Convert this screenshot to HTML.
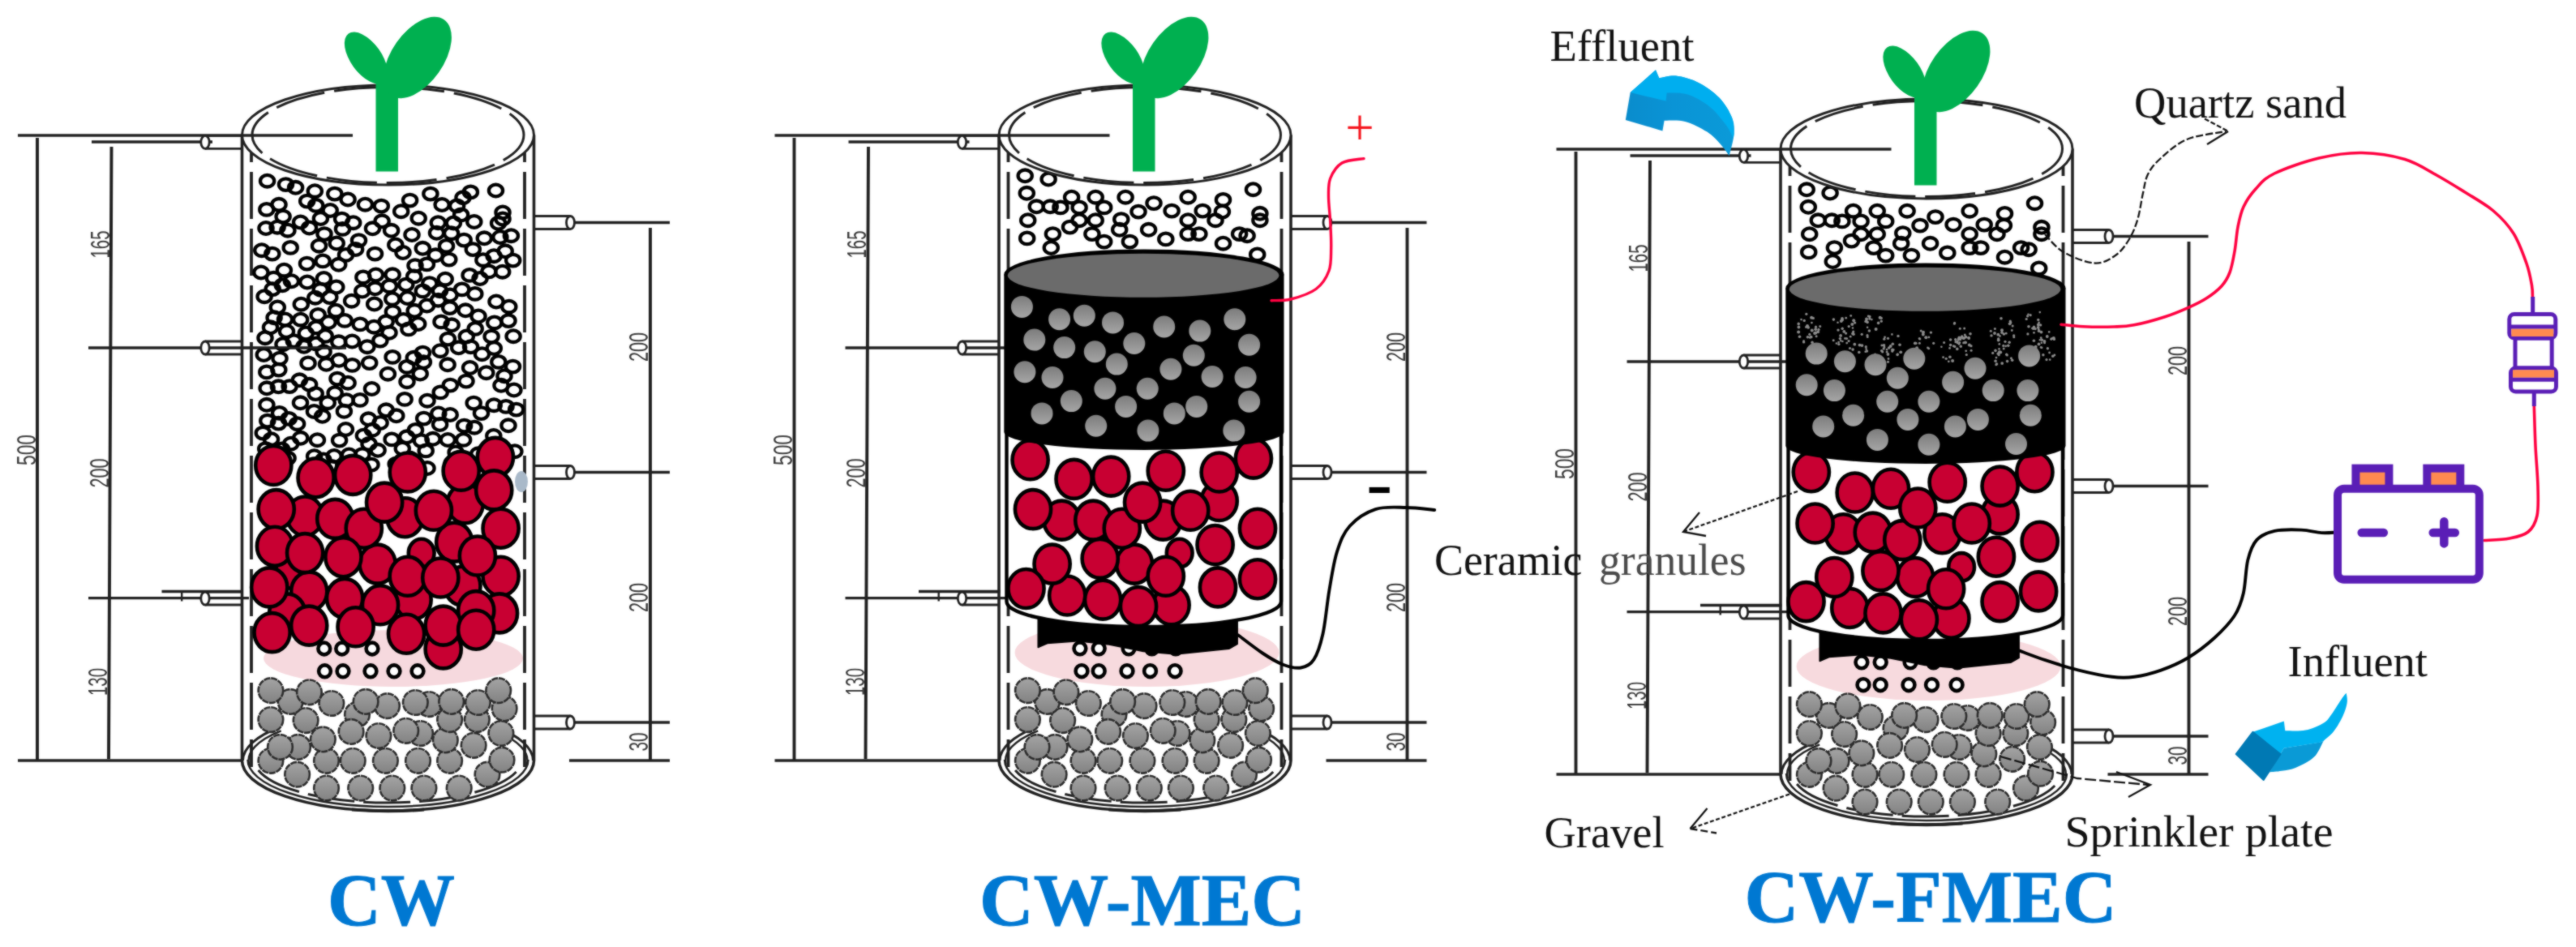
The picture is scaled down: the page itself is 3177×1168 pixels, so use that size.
<!DOCTYPE html>
<html lang="en"><head><meta charset="utf-8"><title>CW, CW-MEC and CW-FMEC reactors</title>
<style>html,body{margin:0;padding:0;background:#fff}svg{display:block}.lab{font-family:"Liberation Serif","Times New Roman",serif;font-size:54px;fill:#111}.ttl{font-family:"Liberation Serif","Times New Roman",serif;font-weight:bold;font-size:91px;fill:#0078d2;stroke:#0078d2;stroke-width:1px}</style></head><body>
<svg width="3177" height="1168" viewBox="0 0 3177 1168">
<defs><linearGradient id="gg" x1="0" y1="0" x2="0" y2="1"><stop offset="0" stop-color="#a4a4a4"/><stop offset="1" stop-color="#828282"/></linearGradient><linearGradient id="gb" x1="0" y1="0" x2="0" y2="1"><stop offset="0" stop-color="#7c7c7c"/><stop offset="1" stop-color="#a6a6a6"/></linearGradient><linearGradient id="efg" x1="0" y1="0" x2="1" y2="0"><stop offset="0" stop-color="#0a8ccc"/><stop offset="0.45" stop-color="#0a94d6"/><stop offset="1" stop-color="#0b9ad8"/></linearGradient><filter id="soft" x="0" y="0" width="100%" height="100%" filterUnits="userSpaceOnUse" color-interpolation-filters="sRGB"><feGaussianBlur in="SourceGraphic" stdDeviation="0.9" result="b"/><feComposite in="SourceGraphic" in2="b" operator="arithmetic" k1="0" k2="0.5" k3="0.5" k4="0"/></filter></defs>
<g filter="url(#soft)">
<rect width="3177" height="1168" fill="#fff"/>
<g id="col1"><g stroke="#202020" stroke-width="3.3" fill="none" stroke-linecap="butt"><path d="M22 167H435 M113 175H262 M109 429H427 M109 737.7H307 M199.5 729.5H300 M22 938H298"/><path d="M709 274.5H826 M709 582.5H826 M709 891H826 M702 938H826"/></g><g stroke="#202020" stroke-width="3.9" fill="none"><path d="M46 170V938 M137.5 181L134 936 M802 281V938"/></g><path d="M224.2 731V741.5" stroke="#202020" stroke-width="2.4" fill="none"/><text transform="translate(134.8 301.5) rotate(-90)" text-anchor="middle" font-family="'Liberation Sans', Arial, sans-serif" font-size="33" fill="#3c3c3c" textLength="34" lengthAdjust="spacingAndGlyphs">165</text><text transform="translate(133.6 583.5) rotate(-90)" text-anchor="middle" font-family="'Liberation Sans', Arial, sans-serif" font-size="33" fill="#3c3c3c" textLength="36" lengthAdjust="spacingAndGlyphs">200</text><text transform="translate(132.4 841) rotate(-90)" text-anchor="middle" font-family="'Liberation Sans', Arial, sans-serif" font-size="33" fill="#3c3c3c" textLength="34" lengthAdjust="spacingAndGlyphs">130</text><text transform="translate(43.5 555) rotate(-90)" text-anchor="middle" font-family="'Liberation Sans', Arial, sans-serif" font-size="33" fill="#3c3c3c" textLength="38" lengthAdjust="spacingAndGlyphs">500</text><text transform="translate(799 428) rotate(-90)" text-anchor="middle" font-family="'Liberation Sans', Arial, sans-serif" font-size="33" fill="#3c3c3c" textLength="36" lengthAdjust="spacingAndGlyphs">200</text><text transform="translate(799 737) rotate(-90)" text-anchor="middle" font-family="'Liberation Sans', Arial, sans-serif" font-size="33" fill="#3c3c3c" textLength="36" lengthAdjust="spacingAndGlyphs">200</text><text transform="translate(799 915) rotate(-90)" text-anchor="middle" font-family="'Liberation Sans', Arial, sans-serif" font-size="33" fill="#3c3c3c" textLength="23" lengthAdjust="spacingAndGlyphs">30</text><g fill="none" stroke="#202020"><path d="M299.5 938A179 62 0 0 1 345.5 896.5 M657.5 938A179 62 0 0 0 611.5 896.5" stroke-width="3"/><path d="M307.2 943A172 57 0 0 1 346.7 901.4 M649.8 943A172 57 0 0 0 610.3 901.4" stroke-width="2.5"/><path d="M305.5 937A173 58 0 0 0 651.5 937" stroke-width="2.5"/><path d="M318.6 950A165.5 54 0 0 0 638.4 950" stroke-width="3" stroke-dasharray="58 11"/><path d="M310 150V946 M647 150V946" stroke-width="3.8" stroke-dasharray="58 12" stroke-dashoffset="8"/></g><ellipse cx="485" cy="812" rx="160" ry="35" fill="#f6d9de"/><g fill="url(#gg)" stroke="#2c2c2c" stroke-width="2.6" stroke-dasharray="8 1"><circle cx="440.5" cy="881.2" r="15.3"/><circle cx="402.5" cy="972.1" r="15.3"/><circle cx="444.7" cy="972.1" r="15.3"/><circle cx="483.8" cy="972.1" r="15.3"/><circle cx="522.9" cy="972.1" r="15.3"/><circle cx="566.2" cy="972.1" r="15.3"/><circle cx="366.6" cy="955.2" r="15.3"/><circle cx="601" cy="955.2" r="15.3"/><circle cx="333.9" cy="938.3" r="15.3"/><circle cx="402.5" cy="938.3" r="15.3"/><circle cx="435.2" cy="938.3" r="15.3"/><circle cx="475.4" cy="938.3" r="15.3"/><circle cx="515.5" cy="938.3" r="15.3"/><circle cx="554.6" cy="938.3" r="15.3"/><circle cx="619" cy="937.2" r="15.3"/><circle cx="367.6" cy="921.4" r="15.3"/><circle cx="345.5" cy="921.4" r="15.3"/><circle cx="584.1" cy="919.3" r="15.3"/><circle cx="549.3" cy="912.9" r="15.3"/><circle cx="398.3" cy="911.9" r="15.3"/><circle cx="466.9" cy="907.6" r="15.3"/><circle cx="518.6" cy="904.5" r="15.3"/><circle cx="617.9" cy="904.5" r="15.3"/><circle cx="433.1" cy="902.4" r="15.3"/><circle cx="500.7" cy="901.3" r="15.3"/><circle cx="377.1" cy="888.6" r="15.3"/><circle cx="333.9" cy="887.6" r="15.3"/><circle cx="554.6" cy="887.6" r="15.3"/><circle cx="588.3" cy="887.6" r="15.3"/><circle cx="622.1" cy="873.9" r="15.3"/><circle cx="477.5" cy="870.7" r="15.3"/><circle cx="529.2" cy="868.6" r="15.3"/><circle cx="408.8" cy="867.5" r="15.3"/><circle cx="512.3" cy="866.5" r="15.3"/><circle cx="589.4" cy="866.5" r="15.3"/><circle cx="358.1" cy="865.4" r="15.3"/><circle cx="451.1" cy="865.4" r="15.3"/><circle cx="556.7" cy="865.4" r="15.3"/><circle cx="381.4" cy="853.8" r="15.3"/><circle cx="333.9" cy="851.7" r="15.3"/><circle cx="614.7" cy="851.7" r="15.3"/></g><g fill="none" stroke="#000" stroke-width="4.3"><ellipse cx="421.6" cy="270.1" rx="8.6" ry="7.3"/><ellipse cx="454.4" cy="516.8" rx="8.6" ry="7.3"/><ellipse cx="595.9" cy="320.7" rx="8.6" ry="7.3"/><ellipse cx="374.9" cy="427.3" rx="8.6" ry="7.3"/><ellipse cx="575" cy="470.1" rx="8.6" ry="7.3"/><ellipse cx="553.8" cy="320.1" rx="8.6" ry="7.3"/><ellipse cx="328.8" cy="458.9" rx="8.6" ry="7.3"/><ellipse cx="589.8" cy="559.8" rx="8.6" ry="7.3"/><ellipse cx="527" cy="577.5" rx="8.6" ry="7.3"/><ellipse cx="358.2" cy="305.4" rx="8.6" ry="7.3"/><ellipse cx="342.3" cy="379" rx="8.6" ry="7.3"/><ellipse cx="406.8" cy="366.6" rx="8.6" ry="7.3"/><ellipse cx="484.1" cy="440.4" rx="8.6" ry="7.3"/><ellipse cx="609.2" cy="499.7" rx="8.6" ry="7.3"/><ellipse cx="324.3" cy="534.1" rx="8.6" ry="7.3"/><ellipse cx="516.2" cy="269.2" rx="8.6" ry="7.3"/><ellipse cx="344" cy="252.3" rx="8.6" ry="7.3"/><ellipse cx="488.2" cy="572.2" rx="8.6" ry="7.3"/><ellipse cx="370.5" cy="496.8" rx="8.6" ry="7.3"/><ellipse cx="389.9" cy="403.9" rx="8.6" ry="7.3"/><ellipse cx="627.8" cy="378.2" rx="8.6" ry="7.3"/><ellipse cx="519.4" cy="543.6" rx="8.6" ry="7.3"/><ellipse cx="590" cy="390" rx="8.6" ry="7.3"/><ellipse cx="424.4" cy="507.3" rx="8.6" ry="7.3"/><ellipse cx="446.9" cy="560.6" rx="8.6" ry="7.3"/><ellipse cx="632.5" cy="452.1" rx="8.6" ry="7.3"/><ellipse cx="398.1" cy="321.9" rx="8.6" ry="7.3"/><ellipse cx="358.7" cy="547.2" rx="8.6" ry="7.3"/><ellipse cx="459.5" cy="281.8" rx="8.6" ry="7.3"/><ellipse cx="552.4" cy="418.1" rx="8.6" ry="7.3"/><ellipse cx="499.1" cy="492.4" rx="8.6" ry="7.3"/><ellipse cx="515.7" cy="399.5" rx="8.6" ry="7.3"/><ellipse cx="623.2" cy="309.8" rx="8.6" ry="7.3"/><ellipse cx="571.6" cy="542.4" rx="8.6" ry="7.3"/><ellipse cx="387.6" cy="562.7" rx="8.6" ry="7.3"/><ellipse cx="484.1" cy="338.8" rx="8.6" ry="7.3"/><ellipse cx="321.9" cy="336" rx="8.6" ry="7.3"/><ellipse cx="328.9" cy="499.3" rx="8.6" ry="7.3"/><ellipse cx="502" cy="470.7" rx="8.6" ry="7.3"/><ellipse cx="540.4" cy="370.2" rx="8.6" ry="7.3"/><ellipse cx="496.3" cy="553.2" rx="8.6" ry="7.3"/><ellipse cx="487.8" cy="302" rx="8.6" ry="7.3"/><ellipse cx="417.7" cy="326.3" rx="8.6" ry="7.3"/><ellipse cx="444.1" cy="399.9" rx="8.6" ry="7.3"/><ellipse cx="447.9" cy="341.9" rx="8.6" ry="7.3"/><ellipse cx="343.5" cy="522.1" rx="8.6" ry="7.3"/><ellipse cx="599.8" cy="459.7" rx="8.6" ry="7.3"/><ellipse cx="633.1" cy="414.7" rx="8.6" ry="7.3"/><ellipse cx="329.6" cy="223.2" rx="8.6" ry="7.3"/><ellipse cx="415.2" cy="300" rx="8.6" ry="7.3"/><ellipse cx="552.1" cy="449.8" rx="8.6" ry="7.3"/><ellipse cx="555.2" cy="511.5" rx="8.6" ry="7.3"/><ellipse cx="359.4" cy="346.7" rx="8.6" ry="7.3"/><ellipse cx="480" cy="410.3" rx="8.6" ry="7.3"/><ellipse cx="530.9" cy="239.1" rx="8.6" ry="7.3"/><ellipse cx="557.2" cy="571.1" rx="8.6" ry="7.3"/><ellipse cx="335.8" cy="313.1" rx="8.6" ry="7.3"/><ellipse cx="484.4" cy="384.6" rx="8.6" ry="7.3"/><ellipse cx="634.9" cy="556.7" rx="8.6" ry="7.3"/><ellipse cx="462.5" cy="313.1" rx="8.6" ry="7.3"/><ellipse cx="391.4" cy="542.7" rx="8.6" ry="7.3"/><ellipse cx="618" cy="475.3" rx="8.6" ry="7.3"/><ellipse cx="433.6" cy="371.2" rx="8.6" ry="7.3"/><ellipse cx="482.6" cy="284.3" rx="8.6" ry="7.3"/><ellipse cx="554.7" cy="379.6" rx="8.6" ry="7.3"/><ellipse cx="413.1" cy="484.7" rx="8.6" ry="7.3"/><ellipse cx="370.6" cy="274" rx="8.6" ry="7.3"/><ellipse cx="378.7" cy="248.1" rx="8.6" ry="7.3"/><ellipse cx="501.7" cy="538.8" rx="8.6" ry="7.3"/><ellipse cx="597.3" cy="293.8" rx="8.6" ry="7.3"/><ellipse cx="627" cy="524.8" rx="8.6" ry="7.3"/><ellipse cx="585.1" cy="527.2" rx="8.6" ry="7.3"/><ellipse cx="527" cy="494.2" rx="8.6" ry="7.3"/><ellipse cx="526.4" cy="325.9" rx="8.6" ry="7.3"/><ellipse cx="442.5" cy="296.6" rx="8.6" ry="7.3"/><ellipse cx="414.3" cy="383.2" rx="8.6" ry="7.3"/><ellipse cx="478.4" cy="461.2" rx="8.6" ry="7.3"/><ellipse cx="538.5" cy="287.3" rx="8.6" ry="7.3"/><ellipse cx="412.1" cy="562.5" rx="8.6" ry="7.3"/><ellipse cx="388.8" cy="367.2" rx="8.6" ry="7.3"/><ellipse cx="608.8" cy="537.5" rx="8.6" ry="7.3"/><ellipse cx="619.7" cy="335.2" rx="8.6" ry="7.3"/><ellipse cx="630.4" cy="290.7" rx="8.6" ry="7.3"/><ellipse cx="378.9" cy="348" rx="8.6" ry="7.3"/><ellipse cx="426.5" cy="314.4" rx="8.6" ry="7.3"/><ellipse cx="614.8" cy="446.4" rx="8.6" ry="7.3"/><ellipse cx="392.2" cy="388.4" rx="8.6" ry="7.3"/><ellipse cx="584.2" cy="497.1" rx="8.6" ry="7.3"/><ellipse cx="571" cy="243.8" rx="8.6" ry="7.3"/><ellipse cx="327" cy="416.7" rx="8.6" ry="7.3"/><ellipse cx="518.2" cy="461" rx="8.6" ry="7.3"/><ellipse cx="500.8" cy="351.1" rx="8.6" ry="7.3"/><ellipse cx="556.6" cy="287.7" rx="8.6" ry="7.3"/><ellipse cx="579.6" cy="453.5" rx="8.6" ry="7.3"/><ellipse cx="354.9" cy="284.2" rx="8.6" ry="7.3"/><ellipse cx="510.3" cy="441.3" rx="8.6" ry="7.3"/><ellipse cx="399.1" cy="433.8" rx="8.6" ry="7.3"/><ellipse cx="575.3" cy="415" rx="8.6" ry="7.3"/><ellipse cx="369.4" cy="468.8" rx="8.6" ry="7.3"/><ellipse cx="417.8" cy="421.8" rx="8.6" ry="7.3"/><ellipse cx="448.4" cy="537.2" rx="8.6" ry="7.3"/><ellipse cx="345" cy="442.1" rx="8.6" ry="7.3"/><ellipse cx="351.5" cy="394" rx="8.6" ry="7.3"/><ellipse cx="584.8" cy="273.5" rx="8.6" ry="7.3"/><ellipse cx="572.2" cy="296.1" rx="8.6" ry="7.3"/><ellipse cx="552.3" cy="542.5" rx="8.6" ry="7.3"/><ellipse cx="452.9" cy="427.7" rx="8.6" ry="7.3"/><ellipse cx="461.7" cy="375" rx="8.6" ry="7.3"/><ellipse cx="470.3" cy="254.1" rx="8.6" ry="7.3"/><ellipse cx="480.3" cy="352.9" rx="8.6" ry="7.3"/><ellipse cx="614.6" cy="275.3" rx="8.6" ry="7.3"/><ellipse cx="337.4" cy="343.1" rx="8.6" ry="7.3"/><ellipse cx="328" cy="281.5" rx="8.6" ry="7.3"/><ellipse cx="353.5" cy="408.7" rx="8.6" ry="7.3"/><ellipse cx="350.1" cy="577.4" rx="8.6" ry="7.3"/><ellipse cx="521.3" cy="358.9" rx="8.6" ry="7.3"/><ellipse cx="583.3" cy="307.6" rx="8.6" ry="7.3"/><ellipse cx="483.1" cy="541.9" rx="8.6" ry="7.3"/><ellipse cx="508" cy="289.5" rx="8.6" ry="7.3"/><ellipse cx="395.4" cy="269.5" rx="8.6" ry="7.3"/><ellipse cx="526.5" cy="377" rx="8.6" ry="7.3"/><ellipse cx="389.7" cy="253.4" rx="8.6" ry="7.3"/><ellipse cx="542.6" cy="523.5" rx="8.6" ry="7.3"/><ellipse cx="402.5" cy="449.3" rx="8.6" ry="7.3"/><ellipse cx="602.9" cy="334.9" rx="8.6" ry="7.3"/><ellipse cx="469.1" cy="521.5" rx="8.6" ry="7.3"/><ellipse cx="458.5" cy="479.5" rx="8.6" ry="7.3"/><ellipse cx="543.2" cy="483.9" rx="8.6" ry="7.3"/><ellipse cx="352.5" cy="227.6" rx="8.6" ry="7.3"/><ellipse cx="522.7" cy="516.1" rx="8.6" ry="7.3"/><ellipse cx="322.8" cy="308.7" rx="8.6" ry="7.3"/><ellipse cx="326.1" cy="365.7" rx="8.6" ry="7.3"/><ellipse cx="429.1" cy="472.2" rx="8.6" ry="7.3"/><ellipse cx="476.2" cy="505.8" rx="8.6" ry="7.3"/><ellipse cx="544" cy="396.9" rx="8.6" ry="7.3"/><ellipse cx="446.8" cy="359" rx="8.6" ry="7.3"/><ellipse cx="609.8" cy="397.9" rx="8.6" ry="7.3"/><ellipse cx="366.6" cy="522.7" rx="8.6" ry="7.3"/><ellipse cx="371.3" cy="375.2" rx="8.6" ry="7.3"/><ellipse cx="378.5" cy="325.1" rx="8.6" ry="7.3"/><ellipse cx="633.9" cy="481" rx="8.6" ry="7.3"/><ellipse cx="636.7" cy="505.1" rx="8.6" ry="7.3"/><ellipse cx="380" cy="447.9" rx="8.6" ry="7.3"/><ellipse cx="612" cy="372" rx="8.6" ry="7.3"/><ellipse cx="418" cy="444.3" rx="8.6" ry="7.3"/><ellipse cx="521.3" cy="306.3" rx="8.6" ry="7.3"/><ellipse cx="569.7" cy="356.9" rx="8.6" ry="7.3"/><ellipse cx="349" cy="424.7" rx="8.6" ry="7.3"/><ellipse cx="586.2" cy="405.4" rx="8.6" ry="7.3"/><ellipse cx="444" cy="493.4" rx="8.6" ry="7.3"/><ellipse cx="389.2" cy="485.6" rx="8.6" ry="7.3"/><ellipse cx="387.4" cy="507.5" rx="8.6" ry="7.3"/><ellipse cx="468.9" cy="420.1" rx="8.6" ry="7.3"/><ellipse cx="494.7" cy="260.7" rx="8.6" ry="7.3"/><ellipse cx="438.6" cy="307.5" rx="8.6" ry="7.3"/><ellipse cx="455.7" cy="447.6" rx="8.6" ry="7.3"/><ellipse cx="349.1" cy="267.1" rx="8.6" ry="7.3"/><ellipse cx="370.7" cy="540.3" rx="8.6" ry="7.3"/><ellipse cx="533.9" cy="541.3" rx="8.6" ry="7.3"/><ellipse cx="497" cy="311.5" rx="8.6" ry="7.3"/><ellipse cx="476.2" cy="396.8" rx="8.6" ry="7.3"/><ellipse cx="325.3" cy="437.5" rx="8.6" ry="7.3"/><ellipse cx="423.7" cy="573.3" rx="8.6" ry="7.3"/><ellipse cx="426.4" cy="529.5" rx="8.6" ry="7.3"/><ellipse cx="585.8" cy="362.4" rx="8.6" ry="7.3"/><ellipse cx="329.1" cy="478.8" rx="8.6" ry="7.3"/><ellipse cx="543" cy="432.7" rx="8.6" ry="7.3"/><ellipse cx="529.8" cy="349.6" rx="8.6" ry="7.3"/><ellipse cx="525.2" cy="555.9" rx="8.6" ry="7.3"/><ellipse cx="328.8" cy="258.4" rx="8.6" ry="7.3"/><ellipse cx="450.4" cy="252.2" rx="8.6" ry="7.3"/><ellipse cx="550.5" cy="303.4" rx="8.6" ry="7.3"/><ellipse cx="466.1" cy="555.3" rx="8.6" ry="7.3"/><ellipse cx="398.8" cy="567" rx="8.6" ry="7.3"/><ellipse cx="434.4" cy="450.4" rx="8.6" ry="7.3"/><ellipse cx="624" cy="501.4" rx="8.6" ry="7.3"/><ellipse cx="335.8" cy="570.5" rx="8.6" ry="7.3"/><ellipse cx="512" cy="327.6" rx="8.6" ry="7.3"/><ellipse cx="329.8" cy="519.1" rx="8.6" ry="7.3"/><ellipse cx="593.5" cy="509.6" rx="8.6" ry="7.3"/><ellipse cx="429.1" cy="246" rx="8.6" ry="7.3"/><ellipse cx="574.1" cy="382.8" rx="8.6" ry="7.3"/><ellipse cx="344.6" cy="509.4" rx="8.6" ry="7.3"/><ellipse cx="434.3" cy="421" rx="8.6" ry="7.3"/><ellipse cx="364.6" cy="231.3" rx="8.6" ry="7.3"/><ellipse cx="510.7" cy="340.9" rx="8.6" ry="7.3"/><ellipse cx="381.5" cy="281" rx="8.6" ry="7.3"/><ellipse cx="355.1" cy="565.1" rx="8.6" ry="7.3"/><ellipse cx="399.4" cy="343.5" rx="8.6" ry="7.3"/><ellipse cx="562.1" cy="557.9" rx="8.6" ry="7.3"/><ellipse cx="350.4" cy="333.2" rx="8.6" ry="7.3"/><ellipse cx="327.7" cy="553.6" rx="8.6" ry="7.3"/><ellipse cx="347.6" cy="554" rx="8.6" ry="7.3"/><ellipse cx="463.5" cy="339" rx="8.6" ry="7.3"/><ellipse cx="388.3" cy="235.7" rx="8.6" ry="7.3"/><ellipse cx="370.7" cy="394.2" rx="8.6" ry="7.3"/><ellipse cx="334.5" cy="541.7" rx="8.6" ry="7.3"/><ellipse cx="400" cy="288.6" rx="8.6" ry="7.3"/><ellipse cx="579.1" cy="339.4" rx="8.6" ry="7.3"/><ellipse cx="580.6" cy="427.8" rx="8.6" ry="7.3"/><ellipse cx="554.9" cy="364" rx="8.6" ry="7.3"/><ellipse cx="435.7" cy="274.7" rx="8.6" ry="7.3"/><ellipse cx="461.3" cy="403.2" rx="8.6" ry="7.3"/><ellipse cx="627" cy="395.6" rx="8.6" ry="7.3"/><ellipse cx="397.6" cy="513.3" rx="8.6" ry="7.3"/><ellipse cx="503.9" cy="405.9" rx="8.6" ry="7.3"/><ellipse cx="545.1" cy="252.5" rx="8.6" ry="7.3"/><ellipse cx="407.2" cy="259.5" rx="8.6" ry="7.3"/><ellipse cx="559.4" cy="275" rx="8.6" ry="7.3"/><ellipse cx="458" cy="573.1" rx="8.6" ry="7.3"/><ellipse cx="333.5" cy="403.8" rx="8.6" ry="7.3"/><ellipse cx="537.2" cy="314.8" rx="8.6" ry="7.3"/><ellipse cx="501.9" cy="452.4" rx="8.6" ry="7.3"/><ellipse cx="381.6" cy="474.3" rx="8.6" ry="7.3"/><ellipse cx="497.5" cy="394.4" rx="8.6" ry="7.3"/><ellipse cx="408.9" cy="575.4" rx="8.6" ry="7.3"/><ellipse cx="336.2" cy="356.6" rx="8.6" ry="7.3"/><ellipse cx="565.6" cy="428.8" rx="8.6" ry="7.3"/><ellipse cx="502.5" cy="367.5" rx="8.6" ry="7.3"/><ellipse cx="572.6" cy="525.1" rx="8.6" ry="7.3"/><ellipse cx="505.6" cy="247.1" rx="8.6" ry="7.3"/><ellipse cx="455" cy="547.4" rx="8.6" ry="7.3"/><ellipse cx="430.5" cy="561" rx="8.6" ry="7.3"/><ellipse cx="348.3" cy="351.7" rx="8.6" ry="7.3"/><ellipse cx="488.8" cy="512.8" rx="8.6" ry="7.3"/><ellipse cx="583.5" cy="576.4" rx="8.6" ry="7.3"/><ellipse cx="521.4" cy="435.1" rx="8.6" ry="7.3"/><ellipse cx="416" cy="467.1" rx="8.6" ry="7.3"/><ellipse cx="563.6" cy="253.9" rx="8.6" ry="7.3"/><ellipse cx="549.2" cy="344.2" rx="8.6" ry="7.3"/><ellipse cx="462.6" cy="355.8" rx="8.6" ry="7.3"/><ellipse cx="505.9" cy="565.3" rx="8.6" ry="7.3"/><ellipse cx="418.6" cy="543.1" rx="8.6" ry="7.3"/><ellipse cx="395.2" cy="357.3" rx="8.6" ry="7.3"/><ellipse cx="632.7" cy="321.1" rx="8.6" ry="7.3"/><ellipse cx="356.2" cy="516.4" rx="8.6" ry="7.3"/><ellipse cx="609.3" cy="429.5" rx="8.6" ry="7.3"/><ellipse cx="404.2" cy="496.7" rx="8.6" ry="7.3"/><ellipse cx="412.8" cy="239.1" rx="8.6" ry="7.3"/><ellipse cx="357.1" cy="476.6" rx="8.6" ry="7.3"/><ellipse cx="592" cy="343.5" rx="8.6" ry="7.3"/><ellipse cx="555.3" cy="475.1" rx="8.6" ry="7.3"/><ellipse cx="414.8" cy="354" rx="8.6" ry="7.3"/><ellipse cx="594.5" cy="436.7" rx="8.6" ry="7.3"/><ellipse cx="542.5" cy="358.7" rx="8.6" ry="7.3"/><ellipse cx="401.2" cy="414.4" rx="8.6" ry="7.3"/><ellipse cx="393.5" cy="303.2" rx="8.6" ry="7.3"/><ellipse cx="362.3" cy="420.6" rx="8.6" ry="7.3"/><ellipse cx="511.2" cy="383.3" rx="8.6" ry="7.3"/><ellipse cx="343.4" cy="476.8" rx="8.6" ry="7.3"/><ellipse cx="422.5" cy="282.4" rx="8.6" ry="7.3"/><ellipse cx="611.1" cy="559.9" rx="8.6" ry="7.3"/><ellipse cx="540.3" cy="274.7" rx="8.6" ry="7.3"/><ellipse cx="483.8" cy="368.7" rx="8.6" ry="7.3"/><ellipse cx="598.1" cy="570.6" rx="8.6" ry="7.3"/><ellipse cx="580.4" cy="236.9" rx="8.6" ry="7.3"/><ellipse cx="343.8" cy="456.1" rx="8.6" ry="7.3"/><ellipse cx="606.1" cy="415.1" rx="8.6" ry="7.3"/><ellipse cx="389.9" cy="424" rx="8.6" ry="7.3"/><ellipse cx="459.3" cy="530.2" rx="8.6" ry="7.3"/><ellipse cx="568.6" cy="264.9" rx="8.6" ry="7.3"/><ellipse cx="427.3" cy="493.7" rx="8.6" ry="7.3"/><ellipse cx="540.8" cy="510" rx="8.6" ry="7.3"/><ellipse cx="471.1" cy="272.8" rx="8.6" ry="7.3"/><ellipse cx="405.1" cy="397.5" rx="8.6" ry="7.3"/><ellipse cx="522.4" cy="446.6" rx="8.6" ry="7.3"/><ellipse cx="622" cy="463.7" rx="8.6" ry="7.3"/><ellipse cx="557.1" cy="400.8" rx="8.6" ry="7.3"/><ellipse cx="342.1" cy="280.2" rx="8.6" ry="7.3"/><ellipse cx="338.1" cy="391.8" rx="8.6" ry="7.3"/><ellipse cx="609.1" cy="315.7" rx="8.6" ry="7.3"/><ellipse cx="512.5" cy="530.4" rx="8.6" ry="7.3"/><ellipse cx="377.3" cy="411" rx="8.6" ry="7.3"/><ellipse cx="616.9" cy="292.5" rx="8.6" ry="7.3"/><ellipse cx="425.1" cy="395.4" rx="8.6" ry="7.3"/><ellipse cx="611.5" cy="235" rx="8.6" ry="7.3"/><ellipse cx="620" cy="262" rx="8.6" ry="7.3"/><ellipse cx="620" cy="270" rx="8.6" ry="7.3"/></g><g fill="#fff" stroke="#000" stroke-width="4.6"><circle cx="399.8" cy="800" r="7.4"/><circle cx="421.7" cy="800" r="7.4"/><circle cx="459" cy="800" r="7.4"/><circle cx="400.5" cy="827.8" r="7.4"/><circle cx="423" cy="827.8" r="7.4"/><circle cx="457" cy="827.8" r="7.4"/><circle cx="486" cy="827.8" r="7.4"/><circle cx="515" cy="827.8" r="7.4"/></g><g fill="#c80032" stroke="#000" stroke-width="4.6"><ellipse cx="376.1" cy="636.5" rx="22.1" ry="24"/><ellipse cx="573.7" cy="621.3" rx="22.1" ry="24"/><ellipse cx="499.4" cy="638.2" rx="22.1" ry="24"/><ellipse cx="560.2" cy="668.6" rx="22.1" ry="24"/><ellipse cx="519.7" cy="682.1" rx="15.9" ry="17.3"/><ellipse cx="465.6" cy="695.6" rx="22.1" ry="24"/><ellipse cx="617.6" cy="710.8" rx="22.1" ry="24"/><ellipse cx="362.6" cy="702.4" rx="22.1" ry="24"/><ellipse cx="381.2" cy="729.4" rx="22.1" ry="24"/><ellipse cx="509.6" cy="739.6" rx="22.1" ry="24"/><ellipse cx="570.4" cy="722.7" rx="22.1" ry="24"/><ellipse cx="616" cy="756.4" rx="22.1" ry="24"/><ellipse cx="354.2" cy="756.4" rx="22.1" ry="24"/><ellipse cx="587.2" cy="753.1" rx="22.1" ry="24"/><ellipse cx="546.7" cy="800.4" rx="22.1" ry="24"/><ellipse cx="337.3" cy="574" rx="22.1" ry="24"/><ellipse cx="389.6" cy="589.2" rx="22.1" ry="24"/><ellipse cx="435.2" cy="585.9" rx="22.1" ry="24"/><ellipse cx="502.8" cy="582.5" rx="22.1" ry="24"/><ellipse cx="568.7" cy="580.8" rx="22.1" ry="24"/><ellipse cx="610.9" cy="563.9" rx="22.1" ry="24"/><ellipse cx="609.2" cy="604.4" rx="22.1" ry="24"/><ellipse cx="340.7" cy="628.1" rx="22.1" ry="24"/><ellipse cx="413.3" cy="639.9" rx="22.1" ry="24"/><ellipse cx="448.8" cy="651.7" rx="22.1" ry="24"/><ellipse cx="474.1" cy="619.6" rx="22.1" ry="24"/><ellipse cx="534.9" cy="629.8" rx="22.1" ry="24"/><ellipse cx="617.6" cy="651.7" rx="22.1" ry="24"/><ellipse cx="339" cy="673.7" rx="22.1" ry="24"/><ellipse cx="376.1" cy="682.1" rx="22.1" ry="24"/><ellipse cx="423.4" cy="687.2" rx="22.1" ry="24"/><ellipse cx="502.8" cy="710.8" rx="22.1" ry="24"/><ellipse cx="543.3" cy="712.5" rx="22.1" ry="24"/><ellipse cx="588.9" cy="685.5" rx="22.1" ry="24"/><ellipse cx="332.2" cy="724.4" rx="22.1" ry="24"/><ellipse cx="425.1" cy="737.9" rx="22.1" ry="24"/><ellipse cx="469" cy="746.3" rx="22.1" ry="24"/><ellipse cx="335.6" cy="780.1" rx="22.1" ry="24"/><ellipse cx="381.2" cy="771.6" rx="22.1" ry="24"/><ellipse cx="438.6" cy="773.3" rx="22.1" ry="24"/><ellipse cx="501.1" cy="781.8" rx="22.1" ry="24"/><ellipse cx="546.7" cy="771.6" rx="22.1" ry="24"/><ellipse cx="587.2" cy="776.7" rx="22.1" ry="24"/></g><ellipse cx="643" cy="594" rx="8" ry="13" fill="#a9b9c9"/><path d="M253 167.3H298 M253 183.3H298" stroke="#202020" stroke-width="2.8" fill="none"/><ellipse cx="253" cy="175.3" rx="5.2" ry="8" fill="#fff" stroke="#202020" stroke-width="2.8"/><path d="M253 421H298 M253 437H298" stroke="#202020" stroke-width="2.8" fill="none"/><ellipse cx="253" cy="429" rx="5.2" ry="8" fill="#fff" stroke="#202020" stroke-width="2.8"/><path d="M253 730H298 M253 746H298" stroke="#202020" stroke-width="2.8" fill="none"/><ellipse cx="253" cy="738" rx="5.2" ry="8" fill="#fff" stroke="#202020" stroke-width="2.8"/><path d="M659 266.5H703.5 M659 282.5H703.5" stroke="#202020" stroke-width="2.8" fill="none"/><ellipse cx="703.5" cy="274.5" rx="5" ry="8" fill="#fff" stroke="#202020" stroke-width="2.8"/><path d="M659 574.5H703.5 M659 590.5H703.5" stroke="#202020" stroke-width="2.8" fill="none"/><ellipse cx="703.5" cy="582.5" rx="5" ry="8" fill="#fff" stroke="#202020" stroke-width="2.8"/><path d="M659 883H703.5 M659 899H703.5" stroke="#202020" stroke-width="2.8" fill="none"/><ellipse cx="703.5" cy="891" rx="5" ry="8" fill="#fff" stroke="#202020" stroke-width="2.8"/><g fill="none" stroke="#202020"><path d="M298.5 166.5V938 M658.5 166.5V938" stroke-width="3.6"/><ellipse cx="478.5" cy="166.5" rx="180" ry="61.5" stroke-width="3" fill="#fff"/><ellipse cx="478.5" cy="166.5" rx="167.5" ry="59" stroke-width="3" stroke-dasharray="62 12" stroke-dashoffset="20"/><path d="M298.5 938A180 62 0 0 0 658.5 938" stroke-width="3.6"/><path d="M434 998.5Q478.5 1002 523 998.5" stroke-width="4"/></g><path d="M298 167H435" stroke="#202020" stroke-width="3.3" fill="none"/><path d="M298 429H427" stroke="#202020" stroke-width="2.6" fill="none"/><g fill="#00b050"><rect x="463.5" y="95" width="27.5" height="116.5"/><ellipse cx="451.5" cy="71.5" rx="37" ry="19" transform="rotate(54 451.5 71.5)"/><ellipse cx="515" cy="71" rx="57" ry="32" transform="rotate(-55 515 71)"/></g></g>
<g id="col2" transform="translate(933.5 0)"><g stroke="#202020" stroke-width="3.3" fill="none" stroke-linecap="butt"><path d="M22 167H435 M113 175H262 M109 429H427 M109 737.7H307 M199.5 729.5H300 M22 938H298"/><path d="M709 274.5H826 M709 582.5H826 M709 891H826 M702 938H826"/></g><g stroke="#202020" stroke-width="3.9" fill="none"><path d="M46 170V938 M137.5 181L134 936 M802 281V938"/></g><path d="M224.2 731V741.5" stroke="#202020" stroke-width="2.4" fill="none"/><text transform="translate(134.8 301.5) rotate(-90)" text-anchor="middle" font-family="'Liberation Sans', Arial, sans-serif" font-size="33" fill="#3c3c3c" textLength="34" lengthAdjust="spacingAndGlyphs">165</text><text transform="translate(133.6 583.5) rotate(-90)" text-anchor="middle" font-family="'Liberation Sans', Arial, sans-serif" font-size="33" fill="#3c3c3c" textLength="36" lengthAdjust="spacingAndGlyphs">200</text><text transform="translate(132.4 841) rotate(-90)" text-anchor="middle" font-family="'Liberation Sans', Arial, sans-serif" font-size="33" fill="#3c3c3c" textLength="34" lengthAdjust="spacingAndGlyphs">130</text><text transform="translate(43.5 555) rotate(-90)" text-anchor="middle" font-family="'Liberation Sans', Arial, sans-serif" font-size="33" fill="#3c3c3c" textLength="38" lengthAdjust="spacingAndGlyphs">500</text><text transform="translate(799 428) rotate(-90)" text-anchor="middle" font-family="'Liberation Sans', Arial, sans-serif" font-size="33" fill="#3c3c3c" textLength="36" lengthAdjust="spacingAndGlyphs">200</text><text transform="translate(799 737) rotate(-90)" text-anchor="middle" font-family="'Liberation Sans', Arial, sans-serif" font-size="33" fill="#3c3c3c" textLength="36" lengthAdjust="spacingAndGlyphs">200</text><text transform="translate(799 915) rotate(-90)" text-anchor="middle" font-family="'Liberation Sans', Arial, sans-serif" font-size="33" fill="#3c3c3c" textLength="23" lengthAdjust="spacingAndGlyphs">30</text><g fill="none" stroke="#202020"><path d="M299.5 938A179 62 0 0 1 345.5 896.5 M657.5 938A179 62 0 0 0 611.5 896.5" stroke-width="3"/><path d="M307.2 943A172 57 0 0 1 346.7 901.4 M649.8 943A172 57 0 0 0 610.3 901.4" stroke-width="2.5"/><path d="M305.5 937A173 58 0 0 0 651.5 937" stroke-width="2.5"/><path d="M318.6 950A165.5 54 0 0 0 638.4 950" stroke-width="3" stroke-dasharray="58 11"/><path d="M310 150V946 M647 150V946" stroke-width="3.8" stroke-dasharray="58 12" stroke-dashoffset="8"/></g><ellipse cx="481" cy="805" rx="163" ry="42" fill="#f7dade"/><g fill="url(#gg)" stroke="#2c2c2c" stroke-width="2.6" stroke-dasharray="8 1"><circle cx="440.5" cy="881.2" r="15.3"/><circle cx="402.5" cy="972.1" r="15.3"/><circle cx="444.7" cy="972.1" r="15.3"/><circle cx="483.8" cy="972.1" r="15.3"/><circle cx="522.9" cy="972.1" r="15.3"/><circle cx="566.2" cy="972.1" r="15.3"/><circle cx="366.6" cy="955.2" r="15.3"/><circle cx="601" cy="955.2" r="15.3"/><circle cx="333.9" cy="938.3" r="15.3"/><circle cx="402.5" cy="938.3" r="15.3"/><circle cx="435.2" cy="938.3" r="15.3"/><circle cx="475.4" cy="938.3" r="15.3"/><circle cx="515.5" cy="938.3" r="15.3"/><circle cx="554.6" cy="938.3" r="15.3"/><circle cx="619" cy="937.2" r="15.3"/><circle cx="367.6" cy="921.4" r="15.3"/><circle cx="345.5" cy="921.4" r="15.3"/><circle cx="584.1" cy="919.3" r="15.3"/><circle cx="549.3" cy="912.9" r="15.3"/><circle cx="398.3" cy="911.9" r="15.3"/><circle cx="466.9" cy="907.6" r="15.3"/><circle cx="518.6" cy="904.5" r="15.3"/><circle cx="617.9" cy="904.5" r="15.3"/><circle cx="433.1" cy="902.4" r="15.3"/><circle cx="500.7" cy="901.3" r="15.3"/><circle cx="377.1" cy="888.6" r="15.3"/><circle cx="333.9" cy="887.6" r="15.3"/><circle cx="554.6" cy="887.6" r="15.3"/><circle cx="588.3" cy="887.6" r="15.3"/><circle cx="622.1" cy="873.9" r="15.3"/><circle cx="477.5" cy="870.7" r="15.3"/><circle cx="529.2" cy="868.6" r="15.3"/><circle cx="408.8" cy="867.5" r="15.3"/><circle cx="512.3" cy="866.5" r="15.3"/><circle cx="589.4" cy="866.5" r="15.3"/><circle cx="358.1" cy="865.4" r="15.3"/><circle cx="451.1" cy="865.4" r="15.3"/><circle cx="556.7" cy="865.4" r="15.3"/><circle cx="381.4" cy="853.8" r="15.3"/><circle cx="333.9" cy="851.7" r="15.3"/><circle cx="614.7" cy="851.7" r="15.3"/></g><g fill="none" stroke="#000" stroke-width="4.3"><ellipse cx="330.7" cy="216.8" rx="8.6" ry="7.3"/><ellipse cx="359.6" cy="221" rx="8.6" ry="7.3"/><ellipse cx="332.8" cy="238.3" rx="8.6" ry="7.3"/><ellipse cx="388.1" cy="243.2" rx="8.6" ry="7.3"/><ellipse cx="417.7" cy="243.2" rx="8.6" ry="7.3"/><ellipse cx="454.6" cy="243.2" rx="8.6" ry="7.3"/><ellipse cx="531.7" cy="243.2" rx="8.6" ry="7.3"/><ellipse cx="575" cy="246.4" rx="8.6" ry="7.3"/><ellipse cx="612" cy="233.7" rx="8.6" ry="7.3"/><ellipse cx="344.8" cy="254.8" rx="8.6" ry="7.3"/><ellipse cx="361.7" cy="254.8" rx="8.6" ry="7.3"/><ellipse cx="374.4" cy="255.9" rx="8.6" ry="7.3"/><ellipse cx="397.6" cy="255.9" rx="8.6" ry="7.3"/><ellipse cx="428.2" cy="255.9" rx="8.6" ry="7.3"/><ellipse cx="489.5" cy="250.6" rx="8.6" ry="7.3"/><ellipse cx="470.5" cy="261.1" rx="8.6" ry="7.3"/><ellipse cx="511.6" cy="260.1" rx="8.6" ry="7.3"/><ellipse cx="549.7" cy="260.1" rx="8.6" ry="7.3"/><ellipse cx="573.9" cy="261.1" rx="8.6" ry="7.3"/><ellipse cx="620.4" cy="271.7" rx="8.6" ry="7.3"/><ellipse cx="620.4" cy="263.3" rx="8.6" ry="7.3"/><ellipse cx="334.2" cy="271.7" rx="8.6" ry="7.3"/><ellipse cx="397.6" cy="271.7" rx="8.6" ry="7.3"/><ellipse cx="417.7" cy="271.7" rx="8.6" ry="7.3"/><ellipse cx="449.3" cy="270.6" rx="8.6" ry="7.3"/><ellipse cx="531.7" cy="271.7" rx="8.6" ry="7.3"/><ellipse cx="565.5" cy="271.7" rx="8.6" ry="7.3"/><ellipse cx="386" cy="280.1" rx="8.6" ry="7.3"/><ellipse cx="447.2" cy="283.3" rx="8.6" ry="7.3"/><ellipse cx="483.1" cy="283.3" rx="8.6" ry="7.3"/><ellipse cx="545.4" cy="288.6" rx="8.6" ry="7.3"/><ellipse cx="531.7" cy="288.6" rx="8.6" ry="7.3"/><ellipse cx="595.1" cy="288.6" rx="8.6" ry="7.3"/><ellipse cx="604.6" cy="290.7" rx="8.6" ry="7.3"/><ellipse cx="333.2" cy="293.9" rx="8.6" ry="7.3"/><ellipse cx="364.9" cy="288.6" rx="8.6" ry="7.3"/><ellipse cx="413.4" cy="288.6" rx="8.6" ry="7.3"/><ellipse cx="428.2" cy="298.1" rx="8.6" ry="7.3"/><ellipse cx="459.9" cy="298.1" rx="8.6" ry="7.3"/><ellipse cx="504.3" cy="294.9" rx="8.6" ry="7.3"/><ellipse cx="575" cy="300.2" rx="8.6" ry="7.3"/><ellipse cx="362.8" cy="305.5" rx="8.6" ry="7.3"/><ellipse cx="617.2" cy="313.9" rx="8.6" ry="7.3"/></g><g fill="#fff" stroke="#000" stroke-width="4.6"><circle cx="398.4" cy="799.8" r="7.4"/><circle cx="421.7" cy="799.8" r="7.4"/><circle cx="458.6" cy="799.8" r="7.4"/><circle cx="487.1" cy="799.8" r="7.4"/><circle cx="516.5" cy="799.8" r="7.4"/><circle cx="400.5" cy="827.7" r="7.4"/><circle cx="421.7" cy="827.7" r="7.4"/><circle cx="456.5" cy="827.7" r="7.4"/><circle cx="485" cy="827.7" r="7.4"/><circle cx="515.6" cy="827.7" r="7.4"/></g><path d="M346.7 798.6L358.3 793.5L396.3 790.7L434.3 795L476.6 803.4L516.7 807L550.5 803.4L582.2 800.3L592.7 794.3L592.7 761.7L560 766L520 769L477 770L430 768.8L390 765.6L346.7 758.7Z" fill="#000" stroke="#000" stroke-width="1.5" stroke-linejoin="round"/><path d="M308 520V742A169.2 31 0 0 0 646.5 742V520Z" fill="#fff" stroke="#000" stroke-width="4.4"/><g fill="#c80032" stroke="#000" stroke-width="4.6"><ellipse cx="375.9" cy="641.6" rx="22.1" ry="24"/><ellipse cx="570.2" cy="618" rx="22.1" ry="24"/><ellipse cx="500.9" cy="641.6" rx="22.1" ry="24"/><ellipse cx="521.2" cy="682.1" rx="15.9" ry="17.3"/><ellipse cx="465.5" cy="695.6" rx="22.1" ry="24"/><ellipse cx="382.7" cy="734.5" rx="22.1" ry="24"/><ellipse cx="511.1" cy="746.3" rx="22.1" ry="24"/><ellipse cx="337.1" cy="567.3" rx="22.1" ry="24"/><ellipse cx="391.1" cy="590.9" rx="22.1" ry="24"/><ellipse cx="436.7" cy="587.6" rx="22.1" ry="24"/><ellipse cx="504.3" cy="580.8" rx="22.1" ry="24"/><ellipse cx="570.2" cy="582.5" rx="22.1" ry="24"/><ellipse cx="612.4" cy="565.6" rx="22.1" ry="24"/><ellipse cx="340.5" cy="628.1" rx="22.1" ry="24"/><ellipse cx="414.8" cy="641.6" rx="22.1" ry="24"/><ellipse cx="450.3" cy="651.7" rx="22.1" ry="24"/><ellipse cx="475.6" cy="619.6" rx="22.1" ry="24"/><ellipse cx="534.7" cy="629.8" rx="22.1" ry="24"/><ellipse cx="617.5" cy="651.7" rx="22.1" ry="24"/><ellipse cx="364.1" cy="695.6" rx="22.1" ry="24"/><ellipse cx="423.2" cy="688.9" rx="22.1" ry="24"/><ellipse cx="504.3" cy="710.8" rx="22.1" ry="24"/><ellipse cx="565.1" cy="672" rx="22.1" ry="24"/><ellipse cx="568.5" cy="724.4" rx="22.1" ry="24"/><ellipse cx="617.5" cy="714.2" rx="22.1" ry="24"/><ellipse cx="332" cy="726" rx="22.1" ry="24"/><ellipse cx="426.6" cy="739.6" rx="22.1" ry="24"/><ellipse cx="470.5" cy="748" rx="22.1" ry="24"/></g><path d="M304.8 338.5V533A172.6 22 0 0 0 650 533V338.5Z" fill="#000"/><ellipse cx="477.4" cy="338.5" rx="172.6" ry="31" fill="#000"/><ellipse cx="476.6" cy="339.8" rx="167.4" ry="27" fill="#6b6b6b"/><g fill="url(#gb)"><circle cx="326.9" cy="378.4" r="13.5"/><circle cx="373.1" cy="393.8" r="13.5"/><circle cx="403.8" cy="389.3" r="13.5"/><circle cx="439" cy="397.9" r="13.5"/><circle cx="502.2" cy="403" r="13.5"/><circle cx="546.3" cy="408.1" r="13.5"/><circle cx="589.3" cy="393.8" r="13.5"/><circle cx="342.3" cy="419.1" r="13.5"/><circle cx="379.2" cy="428.6" r="13.5"/><circle cx="416.8" cy="433.7" r="13.5"/><circle cx="465.3" cy="423.5" r="13.5"/><circle cx="538.8" cy="438.2" r="13.5"/><circle cx="607.1" cy="425.2" r="13.5"/><circle cx="330.4" cy="458.7" r="13.5"/><circle cx="364.5" cy="465.5" r="13.5"/><circle cx="443.8" cy="449.1" r="13.5"/><circle cx="510.4" cy="455.3" r="13.5"/><circle cx="561.6" cy="464.5" r="13.5"/><circle cx="602.6" cy="465.5" r="13.5"/><circle cx="429.4" cy="479.2" r="13.5"/><circle cx="481.7" cy="479.2" r="13.5"/><circle cx="387.8" cy="494.6" r="13.5"/><circle cx="455.1" cy="501.4" r="13.5"/><circle cx="514.8" cy="509.9" r="13.5"/><circle cx="542.2" cy="501.4" r="13.5"/><circle cx="607.1" cy="495.2" r="13.5"/><circle cx="351.5" cy="509.9" r="13.5"/><circle cx="418.2" cy="525.3" r="13.5"/><circle cx="482.4" cy="531.1" r="13.5"/><circle cx="588.3" cy="531.1" r="13.5"/></g><path d="M253 167.3H298 M253 183.3H298" stroke="#202020" stroke-width="2.8" fill="none"/><ellipse cx="253" cy="175.3" rx="5.2" ry="8" fill="#fff" stroke="#202020" stroke-width="2.8"/><path d="M253 421H298 M253 437H298" stroke="#202020" stroke-width="2.8" fill="none"/><ellipse cx="253" cy="429" rx="5.2" ry="8" fill="#fff" stroke="#202020" stroke-width="2.8"/><path d="M253 730H298 M253 746H298" stroke="#202020" stroke-width="2.8" fill="none"/><ellipse cx="253" cy="738" rx="5.2" ry="8" fill="#fff" stroke="#202020" stroke-width="2.8"/><path d="M659 266.5H703.5 M659 282.5H703.5" stroke="#202020" stroke-width="2.8" fill="none"/><ellipse cx="703.5" cy="274.5" rx="5" ry="8" fill="#fff" stroke="#202020" stroke-width="2.8"/><path d="M659 574.5H703.5 M659 590.5H703.5" stroke="#202020" stroke-width="2.8" fill="none"/><ellipse cx="703.5" cy="582.5" rx="5" ry="8" fill="#fff" stroke="#202020" stroke-width="2.8"/><path d="M659 883H703.5 M659 899H703.5" stroke="#202020" stroke-width="2.8" fill="none"/><ellipse cx="703.5" cy="891" rx="5" ry="8" fill="#fff" stroke="#202020" stroke-width="2.8"/><g fill="none" stroke="#202020"><path d="M298.5 166.5V938 M658.5 166.5V938" stroke-width="3.6"/><ellipse cx="478.5" cy="166.5" rx="180" ry="61.5" stroke-width="3" fill="#fff"/><ellipse cx="478.5" cy="166.5" rx="167.5" ry="59" stroke-width="3" stroke-dasharray="62 12" stroke-dashoffset="20"/><path d="M298.5 938A180 62 0 0 0 658.5 938" stroke-width="3.6"/><path d="M434 998.5Q478.5 1002 523 998.5" stroke-width="4"/></g><path d="M298 167H435" stroke="#202020" stroke-width="3.3" fill="none"/><g fill="#00b050"><rect x="463.5" y="95" width="27.5" height="116.5"/><ellipse cx="451.5" cy="71.5" rx="37" ry="19" transform="rotate(54 451.5 71.5)"/><ellipse cx="515" cy="71" rx="57" ry="32" transform="rotate(-55 515 71)"/></g></g>
<g id="col3" transform="translate(1897.5 17)"><g stroke="#202020" stroke-width="3.3" fill="none" stroke-linecap="butt"><path d="M22 167H435 M113 175H262 M109 429H427 M109 737.7H307 M199.5 729.5H300 M22 938H298"/><path d="M709 274.5H826 M709 582.5H826 M709 891H826 M702 938H826"/></g><g stroke="#202020" stroke-width="3.9" fill="none"><path d="M46 170V938 M137.5 181L134 936 M802 281V938"/></g><path d="M224.2 731V741.5" stroke="#202020" stroke-width="2.4" fill="none"/><text transform="translate(134.8 301.5) rotate(-90)" text-anchor="middle" font-family="'Liberation Sans', Arial, sans-serif" font-size="33" fill="#3c3c3c" textLength="34" lengthAdjust="spacingAndGlyphs">165</text><text transform="translate(133.6 583.5) rotate(-90)" text-anchor="middle" font-family="'Liberation Sans', Arial, sans-serif" font-size="33" fill="#3c3c3c" textLength="36" lengthAdjust="spacingAndGlyphs">200</text><text transform="translate(132.4 841) rotate(-90)" text-anchor="middle" font-family="'Liberation Sans', Arial, sans-serif" font-size="33" fill="#3c3c3c" textLength="34" lengthAdjust="spacingAndGlyphs">130</text><text transform="translate(43.5 555) rotate(-90)" text-anchor="middle" font-family="'Liberation Sans', Arial, sans-serif" font-size="33" fill="#3c3c3c" textLength="38" lengthAdjust="spacingAndGlyphs">500</text><text transform="translate(799 428) rotate(-90)" text-anchor="middle" font-family="'Liberation Sans', Arial, sans-serif" font-size="33" fill="#3c3c3c" textLength="36" lengthAdjust="spacingAndGlyphs">200</text><text transform="translate(799 737) rotate(-90)" text-anchor="middle" font-family="'Liberation Sans', Arial, sans-serif" font-size="33" fill="#3c3c3c" textLength="36" lengthAdjust="spacingAndGlyphs">200</text><text transform="translate(799 915) rotate(-90)" text-anchor="middle" font-family="'Liberation Sans', Arial, sans-serif" font-size="33" fill="#3c3c3c" textLength="23" lengthAdjust="spacingAndGlyphs">30</text><g fill="none" stroke="#202020"><path d="M299.5 938A179 62 0 0 1 345.5 896.5 M657.5 938A179 62 0 0 0 611.5 896.5" stroke-width="3"/><path d="M307.2 943A172 57 0 0 1 346.7 901.4 M649.8 943A172 57 0 0 0 610.3 901.4" stroke-width="2.5"/><path d="M305.5 937A173 58 0 0 0 651.5 937" stroke-width="2.5"/><path d="M318.6 950A165.5 54 0 0 0 638.4 950" stroke-width="3" stroke-dasharray="58 11"/><path d="M310 150V946 M647 150V946" stroke-width="3.8" stroke-dasharray="58 12" stroke-dashoffset="8"/></g><ellipse cx="481" cy="805" rx="163" ry="42" fill="#f7dade"/><g fill="url(#gg)" stroke="#2c2c2c" stroke-width="2.6" stroke-dasharray="8 1"><circle cx="440.5" cy="881.2" r="15.3"/><circle cx="402.5" cy="972.1" r="15.3"/><circle cx="444.7" cy="972.1" r="15.3"/><circle cx="483.8" cy="972.1" r="15.3"/><circle cx="522.9" cy="972.1" r="15.3"/><circle cx="566.2" cy="972.1" r="15.3"/><circle cx="366.6" cy="955.2" r="15.3"/><circle cx="601" cy="955.2" r="15.3"/><circle cx="333.9" cy="938.3" r="15.3"/><circle cx="402.5" cy="938.3" r="15.3"/><circle cx="435.2" cy="938.3" r="15.3"/><circle cx="475.4" cy="938.3" r="15.3"/><circle cx="515.5" cy="938.3" r="15.3"/><circle cx="554.6" cy="938.3" r="15.3"/><circle cx="619" cy="937.2" r="15.3"/><circle cx="367.6" cy="921.4" r="15.3"/><circle cx="345.5" cy="921.4" r="15.3"/><circle cx="584.1" cy="919.3" r="15.3"/><circle cx="549.3" cy="912.9" r="15.3"/><circle cx="398.3" cy="911.9" r="15.3"/><circle cx="466.9" cy="907.6" r="15.3"/><circle cx="518.6" cy="904.5" r="15.3"/><circle cx="617.9" cy="904.5" r="15.3"/><circle cx="433.1" cy="902.4" r="15.3"/><circle cx="500.7" cy="901.3" r="15.3"/><circle cx="377.1" cy="888.6" r="15.3"/><circle cx="333.9" cy="887.6" r="15.3"/><circle cx="554.6" cy="887.6" r="15.3"/><circle cx="588.3" cy="887.6" r="15.3"/><circle cx="622.1" cy="873.9" r="15.3"/><circle cx="477.5" cy="870.7" r="15.3"/><circle cx="529.2" cy="868.6" r="15.3"/><circle cx="408.8" cy="867.5" r="15.3"/><circle cx="512.3" cy="866.5" r="15.3"/><circle cx="589.4" cy="866.5" r="15.3"/><circle cx="358.1" cy="865.4" r="15.3"/><circle cx="451.1" cy="865.4" r="15.3"/><circle cx="556.7" cy="865.4" r="15.3"/><circle cx="381.4" cy="853.8" r="15.3"/><circle cx="333.9" cy="851.7" r="15.3"/><circle cx="614.7" cy="851.7" r="15.3"/></g><g fill="none" stroke="#000" stroke-width="4.3"><ellipse cx="330.7" cy="216.8" rx="8.6" ry="7.3"/><ellipse cx="359.6" cy="221" rx="8.6" ry="7.3"/><ellipse cx="332.8" cy="238.3" rx="8.6" ry="7.3"/><ellipse cx="388.1" cy="243.2" rx="8.6" ry="7.3"/><ellipse cx="417.7" cy="243.2" rx="8.6" ry="7.3"/><ellipse cx="454.6" cy="243.2" rx="8.6" ry="7.3"/><ellipse cx="531.7" cy="243.2" rx="8.6" ry="7.3"/><ellipse cx="575" cy="246.4" rx="8.6" ry="7.3"/><ellipse cx="612" cy="233.7" rx="8.6" ry="7.3"/><ellipse cx="344.8" cy="254.8" rx="8.6" ry="7.3"/><ellipse cx="361.7" cy="254.8" rx="8.6" ry="7.3"/><ellipse cx="374.4" cy="255.9" rx="8.6" ry="7.3"/><ellipse cx="397.6" cy="255.9" rx="8.6" ry="7.3"/><ellipse cx="428.2" cy="255.9" rx="8.6" ry="7.3"/><ellipse cx="489.5" cy="250.6" rx="8.6" ry="7.3"/><ellipse cx="470.5" cy="261.1" rx="8.6" ry="7.3"/><ellipse cx="511.6" cy="260.1" rx="8.6" ry="7.3"/><ellipse cx="549.7" cy="260.1" rx="8.6" ry="7.3"/><ellipse cx="573.9" cy="261.1" rx="8.6" ry="7.3"/><ellipse cx="620.4" cy="271.7" rx="8.6" ry="7.3"/><ellipse cx="620.4" cy="263.3" rx="8.6" ry="7.3"/><ellipse cx="334.2" cy="271.7" rx="8.6" ry="7.3"/><ellipse cx="397.6" cy="271.7" rx="8.6" ry="7.3"/><ellipse cx="417.7" cy="271.7" rx="8.6" ry="7.3"/><ellipse cx="449.3" cy="270.6" rx="8.6" ry="7.3"/><ellipse cx="531.7" cy="271.7" rx="8.6" ry="7.3"/><ellipse cx="565.5" cy="271.7" rx="8.6" ry="7.3"/><ellipse cx="386" cy="280.1" rx="8.6" ry="7.3"/><ellipse cx="447.2" cy="283.3" rx="8.6" ry="7.3"/><ellipse cx="483.1" cy="283.3" rx="8.6" ry="7.3"/><ellipse cx="545.4" cy="288.6" rx="8.6" ry="7.3"/><ellipse cx="531.7" cy="288.6" rx="8.6" ry="7.3"/><ellipse cx="595.1" cy="288.6" rx="8.6" ry="7.3"/><ellipse cx="604.6" cy="290.7" rx="8.6" ry="7.3"/><ellipse cx="333.2" cy="293.9" rx="8.6" ry="7.3"/><ellipse cx="364.9" cy="288.6" rx="8.6" ry="7.3"/><ellipse cx="413.4" cy="288.6" rx="8.6" ry="7.3"/><ellipse cx="428.2" cy="298.1" rx="8.6" ry="7.3"/><ellipse cx="459.9" cy="298.1" rx="8.6" ry="7.3"/><ellipse cx="504.3" cy="294.9" rx="8.6" ry="7.3"/><ellipse cx="575" cy="300.2" rx="8.6" ry="7.3"/><ellipse cx="362.8" cy="305.5" rx="8.6" ry="7.3"/><ellipse cx="617.2" cy="313.9" rx="8.6" ry="7.3"/></g><g fill="#fff" stroke="#000" stroke-width="4.6"><circle cx="398.4" cy="799.8" r="7.4"/><circle cx="421.7" cy="799.8" r="7.4"/><circle cx="458.6" cy="799.8" r="7.4"/><circle cx="487.1" cy="799.8" r="7.4"/><circle cx="516.5" cy="799.8" r="7.4"/><circle cx="400.5" cy="827.7" r="7.4"/><circle cx="421.7" cy="827.7" r="7.4"/><circle cx="456.5" cy="827.7" r="7.4"/><circle cx="485" cy="827.7" r="7.4"/><circle cx="515.6" cy="827.7" r="7.4"/></g><path d="M346.7 798.6L358.3 793.5L396.3 790.7L434.3 795L476.6 803.4L516.7 807L550.5 803.4L582.2 800.3L592.7 794.3L592.7 761.7L560 766L520 769L477 770L430 768.8L390 765.6L346.7 758.7Z" fill="#000" stroke="#000" stroke-width="1.5" stroke-linejoin="round"/><path d="M308 520V742A169.2 31 0 0 0 646.5 742V520Z" fill="#fff" stroke="#000" stroke-width="4.4"/><g fill="#c80032" stroke="#000" stroke-width="4.6"><ellipse cx="375.9" cy="641.2" rx="22.1" ry="24"/><ellipse cx="569.1" cy="617.4" rx="22.1" ry="24"/><ellipse cx="497.9" cy="641.2" rx="22.1" ry="24"/><ellipse cx="521.6" cy="682.4" rx="15.9" ry="17.3"/><ellipse cx="464.6" cy="695" rx="22.1" ry="24"/><ellipse cx="383.8" cy="733" rx="22.1" ry="24"/><ellipse cx="508.9" cy="745.7" rx="22.1" ry="24"/><ellipse cx="336.3" cy="565.2" rx="22.1" ry="24"/><ellipse cx="390.2" cy="590.5" rx="22.1" ry="24"/><ellipse cx="434.5" cy="585.8" rx="22.1" ry="24"/><ellipse cx="504.2" cy="577.8" rx="22.1" ry="24"/><ellipse cx="569.1" cy="582.6" rx="22.1" ry="24"/><ellipse cx="611.9" cy="565.2" rx="22.1" ry="24"/><ellipse cx="341.1" cy="628.5" rx="22.1" ry="24"/><ellipse cx="412.3" cy="639.6" rx="22.1" ry="24"/><ellipse cx="448.8" cy="649.1" rx="22.1" ry="24"/><ellipse cx="467.8" cy="609.5" rx="22.1" ry="24"/><ellipse cx="534.3" cy="628.5" rx="22.1" ry="24"/><ellipse cx="618.2" cy="650.7" rx="22.1" ry="24"/><ellipse cx="364.8" cy="695" rx="22.1" ry="24"/><ellipse cx="421.9" cy="687.1" rx="22.1" ry="24"/><ellipse cx="502.6" cy="709.3" rx="22.1" ry="24"/><ellipse cx="564.4" cy="669.7" rx="22.1" ry="24"/><ellipse cx="569.1" cy="725.1" rx="22.1" ry="24"/><ellipse cx="616.6" cy="712.4" rx="22.1" ry="24"/><ellipse cx="330" cy="725.1" rx="22.1" ry="24"/><ellipse cx="425" cy="739.4" rx="22.1" ry="24"/><ellipse cx="469.4" cy="747.3" rx="22.1" ry="24"/></g><path d="M304.8 338.5V533A172.6 22 0 0 0 650 533V338.5Z" fill="#000"/><ellipse cx="477.4" cy="338.5" rx="172.6" ry="31" fill="#000"/><ellipse cx="476.6" cy="339.8" rx="167.4" ry="27" fill="#6b6b6b"/><g fill="#8c8c8c"><circle cx="334.3" cy="395.3" r="1.6"/><circle cx="324" cy="377.1" r="1.3"/><circle cx="347.2" cy="385.4" r="1.5"/><circle cx="334.9" cy="399.2" r="1.6"/><circle cx="338.8" cy="375.4" r="1.7"/><circle cx="340.5" cy="394" r="1.9"/><circle cx="320.7" cy="382.4" r="1.8"/><circle cx="345.5" cy="389.4" r="1.7"/><circle cx="332.6" cy="386.8" r="1.9"/><circle cx="320.9" cy="386.5" r="1.9"/><circle cx="330.3" cy="370.3" r="1.6"/><circle cx="336.6" cy="374.8" r="2"/><circle cx="336.9" cy="381.1" r="1.4"/><circle cx="336.5" cy="398.7" r="1.6"/><circle cx="327.7" cy="378.4" r="1.7"/><circle cx="369.5" cy="390.1" r="1.7"/><circle cx="363.9" cy="377.1" r="1.8"/><circle cx="388.7" cy="378.3" r="2"/><circle cx="373.3" cy="379" r="1.9"/><circle cx="390.1" cy="381.1" r="1.7"/><circle cx="374.6" cy="377.6" r="1.9"/><circle cx="369" cy="380.7" r="1.3"/><circle cx="385.2" cy="372.4" r="1.4"/><circle cx="379.2" cy="375.2" r="1.4"/><circle cx="372.6" cy="396.9" r="1.9"/><circle cx="387.5" cy="387.5" r="1.3"/><circle cx="374.5" cy="375.8" r="1.9"/><circle cx="386.8" cy="383" r="2"/><circle cx="374.7" cy="388.2" r="1.7"/><circle cx="382.7" cy="385.6" r="1.6"/><circle cx="410.9" cy="377.1" r="1.3"/><circle cx="421.1" cy="374.7" r="2"/><circle cx="422.8" cy="375.3" r="1.6"/><circle cx="403.5" cy="379.4" r="1.7"/><circle cx="404.5" cy="376.6" r="2"/><circle cx="405.6" cy="380.4" r="1.8"/><circle cx="416.1" cy="389.1" r="2"/><circle cx="404.5" cy="379.4" r="1.3"/><circle cx="405.6" cy="386.7" r="1.3"/><circle cx="406.6" cy="372.9" r="1.3"/><circle cx="408.3" cy="373.5" r="1.8"/><circle cx="407.9" cy="391" r="1.8"/><circle cx="419.1" cy="381.4" r="1.8"/><circle cx="422.8" cy="379.2" r="1.6"/><circle cx="408.4" cy="376.2" r="1.6"/><circle cx="517.9" cy="401.2" r="1.7"/><circle cx="518.5" cy="401.6" r="1.8"/><circle cx="532.5" cy="394.7" r="1.8"/><circle cx="518.8" cy="399.4" r="1.9"/><circle cx="521.8" cy="399.3" r="1.6"/><circle cx="519.8" cy="388.3" r="1.5"/><circle cx="514.5" cy="404.7" r="1.6"/><circle cx="525.2" cy="388" r="1.5"/><circle cx="513.1" cy="381.4" r="1.6"/><circle cx="522.2" cy="398" r="1.7"/><circle cx="526.3" cy="405.4" r="1.9"/><circle cx="524.6" cy="400.1" r="1.9"/><circle cx="512.9" cy="382.3" r="1.5"/><circle cx="526.9" cy="398.7" r="1.9"/><circle cx="520.2" cy="401.6" r="1.6"/><circle cx="562.5" cy="394" r="1.9"/><circle cx="571.5" cy="390.3" r="2"/><circle cx="581.8" cy="379.2" r="1.6"/><circle cx="584.7" cy="385" r="1.5"/><circle cx="570.5" cy="375.7" r="1.8"/><circle cx="562.9" cy="388.4" r="1.5"/><circle cx="571.5" cy="393.3" r="1.7"/><circle cx="567.8" cy="402.5" r="1.3"/><circle cx="581.2" cy="382.3" r="1.9"/><circle cx="582.2" cy="380.8" r="1.7"/><circle cx="583.8" cy="390.5" r="1.4"/><circle cx="567.2" cy="401" r="1.7"/><circle cx="558.5" cy="396.9" r="1.7"/><circle cx="566.8" cy="395.7" r="1.9"/><circle cx="557.8" cy="391.3" r="1.5"/><circle cx="617.2" cy="391.2" r="1.9"/><circle cx="620" cy="392.6" r="1.9"/><circle cx="618.3" cy="368.1" r="1.3"/><circle cx="604" cy="370.8" r="1.3"/><circle cx="612.6" cy="388.6" r="1.7"/><circle cx="604.5" cy="385.7" r="1.8"/><circle cx="617.1" cy="380.9" r="1.4"/><circle cx="616.4" cy="383.6" r="2"/><circle cx="616.3" cy="377.4" r="1.7"/><circle cx="610.2" cy="388.6" r="1.5"/><circle cx="606.7" cy="371.7" r="1.6"/><circle cx="616.7" cy="388.9" r="1.4"/><circle cx="601.7" cy="376.5" r="1.6"/><circle cx="619.2" cy="383.9" r="1.6"/><circle cx="603.1" cy="372.8" r="1.6"/><circle cx="398.7" cy="395.3" r="1.6"/><circle cx="387.6" cy="414.1" r="1.8"/><circle cx="384" cy="412.5" r="1.6"/><circle cx="395.3" cy="417.5" r="1.8"/><circle cx="403.8" cy="410.7" r="1.6"/><circle cx="405.5" cy="396.5" r="1.6"/><circle cx="405.7" cy="398.5" r="1.5"/><circle cx="389.8" cy="407.7" r="1.9"/><circle cx="387.6" cy="394.5" r="1.9"/><circle cx="388.6" cy="395.3" r="1.7"/><circle cx="404.1" cy="413.4" r="1.3"/><circle cx="403.2" cy="416.8" r="1.3"/><circle cx="398.9" cy="409.1" r="1.9"/><circle cx="396" cy="408.6" r="1.9"/><circle cx="404.9" cy="416" r="1.8"/><circle cx="443.5" cy="397.4" r="1.7"/><circle cx="436.8" cy="407.2" r="1.8"/><circle cx="423.3" cy="409" r="1.4"/><circle cx="435.9" cy="395.4" r="1.3"/><circle cx="430.9" cy="420" r="1.9"/><circle cx="436.3" cy="416.3" r="1.5"/><circle cx="426.3" cy="401.2" r="1.6"/><circle cx="429.6" cy="416.9" r="1.5"/><circle cx="432.2" cy="412" r="1.7"/><circle cx="445.5" cy="408.3" r="1.8"/><circle cx="442.6" cy="420.5" r="1.8"/><circle cx="431" cy="400.3" r="1.6"/><circle cx="427.1" cy="398.8" r="1.4"/><circle cx="446.7" cy="417.3" r="1.9"/><circle cx="426" cy="408.8" r="1.8"/><circle cx="480" cy="411.9" r="1.4"/><circle cx="469.7" cy="400.5" r="1.5"/><circle cx="471.7" cy="391.1" r="1.5"/><circle cx="474.3" cy="395.5" r="1.9"/><circle cx="470.3" cy="400.9" r="1.5"/><circle cx="487.2" cy="406.3" r="1.6"/><circle cx="481.2" cy="412.7" r="1.5"/><circle cx="477.8" cy="399.2" r="2"/><circle cx="465.5" cy="406.3" r="1.6"/><circle cx="483.9" cy="393.1" r="1.7"/><circle cx="464.3" cy="406.3" r="1.9"/><circle cx="466.6" cy="412.3" r="2"/><circle cx="469.9" cy="406.2" r="1.5"/><circle cx="474.5" cy="392.7" r="2"/><circle cx="481.4" cy="398.9" r="1.4"/><circle cx="507.4" cy="423.2" r="1.8"/><circle cx="516.7" cy="405.7" r="1.5"/><circle cx="513.3" cy="410.4" r="1.6"/><circle cx="507.1" cy="412.4" r="1.4"/><circle cx="511.8" cy="409.7" r="1.5"/><circle cx="496.9" cy="410.8" r="1.3"/><circle cx="502.7" cy="425.3" r="1.6"/><circle cx="510.6" cy="427.9" r="2"/><circle cx="499.1" cy="423.7" r="1.4"/><circle cx="505.8" cy="428.8" r="1.4"/><circle cx="518.6" cy="407.4" r="1.4"/><circle cx="516.3" cy="413.4" r="1.8"/><circle cx="508.1" cy="408.6" r="1.8"/><circle cx="500.1" cy="405.6" r="1.5"/><circle cx="508.1" cy="402" r="1.8"/><circle cx="567.7" cy="420.7" r="1.6"/><circle cx="565" cy="432" r="1.8"/><circle cx="566.8" cy="419.3" r="1.8"/><circle cx="568.3" cy="417.2" r="1.9"/><circle cx="569.7" cy="417.5" r="2"/><circle cx="578.1" cy="428.6" r="1.8"/><circle cx="563.5" cy="415.4" r="1.8"/><circle cx="564.5" cy="424.1" r="1.4"/><circle cx="584.2" cy="427.2" r="1.8"/><circle cx="560.2" cy="418.4" r="1.6"/><circle cx="571.7" cy="431.1" r="1.9"/><circle cx="582.9" cy="424.7" r="1.5"/><circle cx="573.7" cy="413" r="1.5"/><circle cx="563.6" cy="428.2" r="1.8"/><circle cx="564.3" cy="432.9" r="1.4"/><circle cx="630.1" cy="418" r="1.4"/><circle cx="633" cy="400.7" r="1.4"/><circle cx="634.3" cy="422.3" r="1.8"/><circle cx="635.9" cy="401.4" r="1.7"/><circle cx="636.4" cy="420.9" r="1.4"/><circle cx="619.6" cy="411.4" r="1.4"/><circle cx="630.7" cy="426.6" r="1.3"/><circle cx="635.3" cy="399.9" r="2"/><circle cx="622.4" cy="420.8" r="1.7"/><circle cx="620.8" cy="402.3" r="1.8"/><circle cx="626.5" cy="426.6" r="1.6"/><circle cx="620.4" cy="405.7" r="1.3"/><circle cx="632.3" cy="401.2" r="1.6"/><circle cx="620.6" cy="411.8" r="1.4"/><circle cx="627.9" cy="412.8" r="1.7"/><circle cx="423.1" cy="415.6" r="1.7"/><circle cx="442.8" cy="420" r="1.4"/><circle cx="432.3" cy="412.1" r="1.3"/><circle cx="424.5" cy="429.2" r="1.4"/><circle cx="415.1" cy="420.1" r="1.5"/><circle cx="437.7" cy="414.5" r="1.4"/><circle cx="436.5" cy="414.5" r="1.9"/><circle cx="426.4" cy="411" r="1.5"/><circle cx="434.2" cy="410" r="1.9"/><circle cx="417.1" cy="428.6" r="1.6"/><circle cx="431.5" cy="425.5" r="1.4"/><circle cx="431" cy="429.3" r="1.6"/><circle cx="425.7" cy="413.1" r="1.6"/><circle cx="424.2" cy="416.9" r="1.6"/><circle cx="429.6" cy="414.1" r="1.4"/><circle cx="388.2" cy="392.1" r="1.6"/><circle cx="370.4" cy="407.6" r="1.7"/><circle cx="378" cy="400.4" r="1.4"/><circle cx="379.1" cy="394.1" r="1.6"/><circle cx="380.2" cy="406.1" r="1.4"/><circle cx="372.8" cy="403.2" r="1.3"/><circle cx="382.6" cy="403.6" r="1.6"/><circle cx="380" cy="400.5" r="1.6"/><circle cx="367.4" cy="406.5" r="1.3"/><circle cx="370.1" cy="405.1" r="1.3"/><circle cx="384.7" cy="398.2" r="1.4"/><circle cx="371.9" cy="400.6" r="1.7"/><circle cx="374.9" cy="404" r="1.3"/><circle cx="376.8" cy="391.9" r="1.9"/><circle cx="363.7" cy="402.8" r="1.5"/><circle cx="617" cy="407.4" r="1.9"/><circle cx="611" cy="393.3" r="1.4"/><circle cx="611" cy="386.2" r="1.7"/><circle cx="619.7" cy="399.7" r="1.4"/><circle cx="618.4" cy="402.2" r="1.3"/><circle cx="609" cy="387.9" r="1.4"/><circle cx="627.3" cy="398" r="1.9"/><circle cx="629.7" cy="392.4" r="1.3"/><circle cx="613.1" cy="410.7" r="2"/><circle cx="624" cy="403.9" r="1.9"/><circle cx="624.1" cy="405.8" r="1.5"/><circle cx="610.9" cy="386.6" r="1.4"/><circle cx="616.2" cy="386.8" r="1.9"/><circle cx="603.4" cy="394.9" r="1.6"/><circle cx="610.9" cy="403.3" r="1.8"/><circle cx="568.3" cy="407.4" r="1.4"/><circle cx="573.9" cy="395" r="1.8"/><circle cx="568.1" cy="413.3" r="1.4"/><circle cx="575.5" cy="404.3" r="1.6"/><circle cx="576.7" cy="394.2" r="1.4"/><circle cx="577.2" cy="420.2" r="1.7"/><circle cx="586.2" cy="396.8" r="1.6"/><circle cx="586.3" cy="398.7" r="1.5"/><circle cx="573.3" cy="409.4" r="1.6"/><circle cx="580.7" cy="405.2" r="1.7"/><circle cx="579.3" cy="409.2" r="1.8"/><circle cx="576.2" cy="409.8" r="1.4"/><circle cx="569" cy="397.4" r="1.3"/><circle cx="577.9" cy="421.1" r="1.5"/><circle cx="567.1" cy="402.8" r="1.8"/><circle cx="514.2" cy="401.8" r="1.7"/><circle cx="527.2" cy="415.8" r="1.4"/><circle cx="527.1" cy="405.4" r="1.3"/><circle cx="531.3" cy="408.5" r="1.9"/><circle cx="533.6" cy="415.2" r="1.5"/><circle cx="530.4" cy="399.6" r="1.7"/><circle cx="525.8" cy="395.9" r="1.5"/><circle cx="516.8" cy="403.9" r="1.4"/><circle cx="530.7" cy="400" r="1.9"/><circle cx="527.8" cy="420.5" r="1.6"/><circle cx="524.2" cy="405.8" r="1.5"/><circle cx="520.8" cy="410.3" r="1.7"/><circle cx="523.9" cy="400.2" r="1.8"/><circle cx="519.3" cy="405.6" r="1.5"/><circle cx="533.5" cy="409.7" r="1.6"/><circle cx="336.1" cy="398.1" r="1.4"/><circle cx="341.7" cy="389.2" r="1.9"/><circle cx="341.8" cy="393.5" r="2"/><circle cx="320.6" cy="392.4" r="2"/><circle cx="342" cy="386.2" r="1.6"/><circle cx="331.5" cy="385.1" r="2"/><circle cx="337.2" cy="390.6" r="2"/><circle cx="331.9" cy="398.8" r="1.8"/><circle cx="327.1" cy="404.9" r="1.7"/><circle cx="342.6" cy="397.8" r="1.5"/><circle cx="322" cy="398.2" r="1.8"/><circle cx="329.9" cy="386.5" r="1.4"/><circle cx="327.1" cy="403.7" r="1.4"/><circle cx="337.5" cy="405.3" r="1.8"/><circle cx="344.7" cy="392.3" r="1.9"/></g><g fill="url(#gb)"><circle cx="342.7" cy="419.1" r="13.5"/><circle cx="377.9" cy="428.7" r="13.5"/><circle cx="415.5" cy="432.8" r="13.5"/><circle cx="463.3" cy="425.3" r="13.5"/><circle cx="605.1" cy="421.9" r="13.5"/><circle cx="538.5" cy="437.2" r="13.5"/><circle cx="442.8" cy="449.2" r="13.5"/><circle cx="511.1" cy="454.3" r="13.5"/><circle cx="330.7" cy="457.7" r="13.5"/><circle cx="364.9" cy="464.6" r="13.5"/><circle cx="560.7" cy="464.6" r="13.5"/><circle cx="603.4" cy="464.6" r="13.5"/><circle cx="430.2" cy="478.2" r="13.5"/><circle cx="481.4" cy="478.2" r="13.5"/><circle cx="388.1" cy="495.3" r="13.5"/><circle cx="455.4" cy="500.4" r="13.5"/><circle cx="541.9" cy="500.4" r="13.5"/><circle cx="606.8" cy="495.3" r="13.5"/><circle cx="351.2" cy="509" r="13.5"/><circle cx="513.9" cy="509" r="13.5"/><circle cx="417.9" cy="525.4" r="13.5"/><circle cx="481.4" cy="531.2" r="13.5"/><circle cx="589" cy="530.5" r="13.5"/></g><path d="M253 167.3H298 M253 183.3H298" stroke="#202020" stroke-width="2.8" fill="none"/><ellipse cx="253" cy="175.3" rx="5.2" ry="8" fill="#fff" stroke="#202020" stroke-width="2.8"/><path d="M253 421H298 M253 437H298" stroke="#202020" stroke-width="2.8" fill="none"/><ellipse cx="253" cy="429" rx="5.2" ry="8" fill="#fff" stroke="#202020" stroke-width="2.8"/><path d="M253 730H298 M253 746H298" stroke="#202020" stroke-width="2.8" fill="none"/><ellipse cx="253" cy="738" rx="5.2" ry="8" fill="#fff" stroke="#202020" stroke-width="2.8"/><path d="M659 266.5H703.5 M659 282.5H703.5" stroke="#202020" stroke-width="2.8" fill="none"/><ellipse cx="703.5" cy="274.5" rx="5" ry="8" fill="#fff" stroke="#202020" stroke-width="2.8"/><path d="M659 574.5H703.5 M659 590.5H703.5" stroke="#202020" stroke-width="2.8" fill="none"/><ellipse cx="703.5" cy="582.5" rx="5" ry="8" fill="#fff" stroke="#202020" stroke-width="2.8"/><path d="M659 883H703.5 M659 899H703.5" stroke="#202020" stroke-width="2.8" fill="none"/><ellipse cx="703.5" cy="891" rx="5" ry="8" fill="#fff" stroke="#202020" stroke-width="2.8"/><g fill="none" stroke="#202020"><path d="M298.5 166.5V938 M658.5 166.5V938" stroke-width="3.6"/><ellipse cx="478.5" cy="166.5" rx="180" ry="61.5" stroke-width="3" fill="#fff"/><ellipse cx="478.5" cy="166.5" rx="167.5" ry="59" stroke-width="3" stroke-dasharray="62 12" stroke-dashoffset="20"/><path d="M298.5 938A180 62 0 0 0 658.5 938" stroke-width="3.6"/><path d="M434 998.5Q478.5 1002 523 998.5" stroke-width="4"/></g><path d="M298 167H435" stroke="#202020" stroke-width="3.3" fill="none"/><g fill="#00b050"><rect x="463.5" y="95" width="27.5" height="116.5"/><ellipse cx="451.5" cy="71.5" rx="37" ry="19" transform="rotate(54 451.5 71.5)"/><ellipse cx="515" cy="71" rx="57" ry="32" transform="rotate(-55 515 71)"/></g></g>
<path d="M2217 606L2077 655.5" fill="none" stroke="#111" stroke-width="2.3" stroke-dasharray="5 2.6"/><path d="M2096 632L2076 656L2104 661" fill="none" stroke="#111" stroke-width="2.3"/><path d="M2207 979.5L2085 1022" fill="none" stroke="#111" stroke-width="2.3" stroke-dasharray="5 2.6"/><path d="M2105.5 997L2084.5 1022" fill="none" stroke="#111" stroke-width="2.3"/><path d="M2084.5 1022L2117 1027.5" fill="none" stroke="#111" stroke-width="2.3" stroke-dasharray="9 4"/><path d="M2467 933L2562 960L2650 968" fill="none" stroke="#111" stroke-width="2.3" stroke-dasharray="14 4"/><path d="M2610 952L2652 968L2625 983" fill="none" stroke="#111" stroke-width="2.3"/><path d="M2522 289C2525.8 292.7 2534.8 305.1 2545 311C2555.2 316.9 2572.3 323.8 2583 324.5C2593.7 325.2 2601.8 319.9 2609 315C2616.2 310.1 2621.4 302.5 2626 295C2630.6 287.5 2633.7 279.5 2636.5 270C2639.3 260.5 2640.9 247.2 2643 238C2645.1 228.8 2645.5 222 2649 215C2652.5 208 2656 203.2 2664 196C2672 188.8 2683.5 177.7 2697 172C2710.5 166.3 2737 163.7 2745 162" fill="none" stroke="#111" stroke-width="2.3" stroke-dasharray="9 3"/><path d="M2719 146.5L2748 162" fill="none" stroke="#111" stroke-width="2.3" stroke-dasharray="6 2.5"/><path d="M2748 162L2722 178" fill="none" stroke="#111" stroke-width="2.3"/><path d="M1568 370.7C1572 370.4 1582.8 371.4 1592 369C1601.2 366.6 1615.2 362.3 1623 356.5C1630.8 350.7 1635.9 342.4 1639 334C1642.1 325.6 1641.4 316 1641.7 306C1642 296 1641.2 284.6 1640.7 274C1640.2 263.4 1638.5 251.5 1638.5 242.5C1638.5 233.5 1638 226.9 1640.7 220C1643.5 213.1 1648.1 205.1 1655 201C1661.9 196.9 1677.5 196.5 1682 195.6" fill="none" stroke="#ff0040" stroke-width="3.4" stroke-linecap="round"/><text x="1659.2" y="178.6" font-family="'Liberation Serif', 'Times New Roman', serif" font-size="63" fill="#f5141c">+</text><text x="1684.7" y="619.7" font-family="'Liberation Sans', Arial, sans-serif" font-weight="bold" font-size="60" fill="#000" textLength="33" lengthAdjust="spacingAndGlyphs">-</text><path d="M1527 783.3C1532 787 1547.8 799.4 1557 805.5C1566.2 811.6 1574.5 816.7 1582.4 819.7C1590.3 822.7 1598.2 824.5 1604.5 823.5C1610.8 822.5 1615.9 820.4 1620.4 813.4C1624.9 806.4 1628.3 795.9 1631.5 781.7C1634.7 767.5 1636.5 744.9 1639.4 728C1642.3 711.1 1644.8 693.6 1649 680.4C1653.2 667.2 1656.8 657.4 1664.7 648.7C1672.6 640 1684.8 631.9 1696.4 628.1C1708 624.3 1722.3 625.9 1734.4 626C1746.5 626.1 1763.4 628.5 1769.2 629" fill="none" stroke="#000" stroke-width="3.9" stroke-linecap="round"/><path d="M2542 400.2C2546.5 400.6 2558.2 402.2 2569 402.7C2579.8 403.2 2596.5 403.3 2607 403C2617.5 402.7 2621.5 402.9 2632 400.8C2642.5 398.8 2658.8 394.3 2670 390.7C2681.2 387.1 2690.5 383.1 2699 379.3C2707.5 375.5 2714.2 372.4 2721 368C2727.8 363.6 2735.2 358 2740 352.7C2744.8 347.4 2747.3 343.1 2750 336C2752.7 328.9 2754.3 319.3 2756 310C2757.7 300.7 2758.2 289.2 2760 280C2761.8 270.8 2763.3 262.8 2767 255C2770.7 247.2 2775.7 239.8 2782 233C2788.3 226.2 2792 220.3 2805 214C2818 207.7 2842 199.2 2860 195C2878 190.8 2895.3 188.2 2913 188.5C2930.7 188.8 2950.7 191.9 2966 196.5C2981.3 201.1 2992.7 209.2 3005 216C3017.3 222.8 3028.3 229.7 3040 237C3051.7 244.3 3065 251.5 3075 260C3085 268.5 3093.2 277.2 3100 288C3106.8 298.8 3112.2 314.3 3116 325C3119.8 335.7 3121.2 344.8 3122.5 352C3123.8 359.2 3123.3 365.3 3123.5 368" fill="none" stroke="#ff0040" stroke-width="3.6" stroke-linecap="round"/><path d="M3125.3 500C3125.6 508.3 3126.2 533.3 3127 550C3127.8 566.7 3129.7 585.7 3130 600C3130.3 614.3 3131 626.7 3129 636C3127 645.3 3123.7 651.3 3118 656C3112.3 660.7 3104 662.2 3095 664C3086 665.8 3069.2 666.1 3064 666.5" fill="none" stroke="#ff0040" stroke-width="3.6" stroke-linecap="round"/><path d="M2490.8 802.7C2496.1 804.6 2510.3 810.2 2522.4 814.2C2534.5 818.2 2549.9 823.2 2563.6 826.6C2577.3 830 2593.4 833.4 2604.8 834.8C2616.2 836.2 2622.2 836.2 2632.3 834.8C2642.4 833.4 2654.2 830.5 2665.2 826.6C2676.2 822.7 2687.2 818.1 2698.2 811.5C2709.2 804.9 2721.5 795.5 2731.1 786.8C2740.7 778.1 2749.9 768.5 2755.9 759.3C2761.9 750.1 2764.1 743.2 2766.8 731.8C2769.5 720.3 2769.6 701.6 2772.3 690.6C2775.1 679.6 2777.8 671.9 2783.3 665.9C2788.8 659.9 2796.1 656.9 2805.3 654.9C2814.5 652.9 2828.7 653.2 2838.3 653.6C2847.9 654 2855.7 656.6 2863 657.1C2870.3 657.6 2878.8 656.6 2882 656.5" fill="none" stroke="#000" stroke-width="3.9" stroke-linecap="round"/><path d="M3123.7 366V388 M3125.3 483V501" stroke="#5a1eb6" stroke-width="5" fill="none"/><rect x="3102" y="417" width="45.2" height="37" fill="#fff" stroke="#5a1eb6" stroke-width="5"/><rect x="3094.8" y="387.5" width="57" height="29.5" rx="6" ry="6" fill="#fff" stroke="#5a1eb6" stroke-width="5"/><rect x="3097.3" y="405.4" width="52" height="9.6" fill="#ff8a50"/><path d="M3095 403H3151.6" stroke="#5a1eb6" stroke-width="5" fill="none"/><rect x="3096.5" y="453.9" width="56" height="29.1" rx="6" ry="6" fill="#fff" stroke="#5a1eb6" stroke-width="5"/><rect x="3099" y="456.2" width="51" height="9.6" fill="#ff8a50"/><path d="M3096.7 468.2H3152.3" stroke="#5a1eb6" stroke-width="5" fill="none"/><rect x="2905.4" y="577.6" width="41" height="26" fill="#ff8a50" stroke="#5a1eb6" stroke-width="10"/><rect x="2993.3" y="577.6" width="41" height="26" fill="#ff8a50" stroke="#5a1eb6" stroke-width="10"/><rect x="2883" y="602.7" width="174.8" height="112" rx="8" ry="8" fill="#fff" stroke="#5a1eb6" stroke-width="10"/><path d="M2912.7 657H2939.8 M3000.7 657H3027.8 M3014.3 643.3V670.4" stroke="#5a1eb6" stroke-width="10.5" stroke-linecap="round" fill="none"/><path d="M2046.2 96.3C2049.9 95.9 2060 92.8 2068.2 93.8C2076.3 94.8 2086.5 97.7 2095.2 102.3C2103.9 106.8 2113.8 113.8 2120.6 120.8C2127.3 127.9 2132.8 137.2 2135.8 144.5C2138.8 151.8 2139.1 156.8 2138.6 164.8C2138.1 172.7 2133.7 187.6 2132.7 192.2C2131 189.9 2126.8 183.2 2122.2 178.3C2117.7 173.4 2112.7 167.3 2105.3 162.6C2098 157.9 2087.1 152.2 2078.3 149.9C2069.5 147.6 2056.9 148.9 2052.6 148.7L2050.4 161.4L2004.8 147.9L2010.7 114.1L2042 86.2Z" fill="url(#efg)"/><path d="M2046.2 96.3C2049.9 95.9 2060 92.8 2068.2 93.8C2076.3 94.8 2086.5 97.7 2095.2 102.3C2103.9 106.8 2113.8 113.8 2120.6 120.8C2127.3 127.9 2132.8 137.2 2135.8 144.5C2138.8 151.8 2138.2 161.4 2138.6 164.8L2137.8 170.7C2136.3 168 2133.8 161.1 2129 154.6C2124.2 148.2 2116.6 138.2 2108.7 131.8C2100.8 125.5 2090.5 119.5 2081.7 116.6C2072.8 113.7 2060 114.8 2055.7 114.4L2054.6 124.6L2010.7 114.1L2042 86.2Z" fill="#00aeef"/><path d="M2865.6 913.9C2863.6 917.2 2859.5 928.4 2853.8 933.8C2848.1 939.3 2838.3 943.9 2831.6 946.7C2825 949.5 2819.3 949.9 2813.9 950.8C2808.5 951.8 2801.6 952.1 2799.1 952.3L2812.4 930.1L2816.8 922.8L2861.2 915.4Z" fill="#0a9ad6"/><path d="M2893.7 854.8C2893.9 856.7 2895.4 861.9 2894.7 866.6C2894 871.3 2892.3 876.9 2889.5 882.9C2886.8 888.8 2882.2 896.9 2878.2 902.1C2874.2 907.2 2867.7 911.9 2865.6 913.9L2861.2 915.7L2816.8 922.8L2812.4 930.1L2778.4 902.8L2816.8 889.5L2818.3 901.3C2822.5 901.2 2835.6 902.2 2843.4 900.6C2851.3 899 2860.6 894.6 2865.6 891.7C2870.7 888.9 2870 888.5 2873.7 883.6C2877.4 878.7 2884.5 867 2887.8 862.2C2891.1 857.4 2892.7 856 2893.7 854.8Z" fill="#00b2f0"/><polygon points="2778.4,902.8 2812.4,930.1 2791.7,961.9 2757.7,930.1" fill="#0079b4" stroke="#0079b4" stroke-width="2" stroke-linejoin="round"/><text class="lab" x="1911.5" y="75" textLength="178" lengthAdjust="spacingAndGlyphs">Effluent</text><text class="lab" x="2632" y="144.7" textLength="262" lengthAdjust="spacingAndGlyphs">Quartz sand</text><text class="lab" x="1769" y="708.7" textLength="182.5" lengthAdjust="spacingAndGlyphs">Ceramic</text><text class="lab" x="1972" y="708.7" textLength="181.5" lengthAdjust="spacingAndGlyphs" style="fill:#4a4a4a">granules</text><text class="lab" x="1904.5" y="1044.6" textLength="148" lengthAdjust="spacingAndGlyphs">Gravel</text><text class="lab" x="2546.5" y="1044" textLength="331" lengthAdjust="spacingAndGlyphs">Sprinkler plate</text><text class="lab" x="2821.5" y="834" textLength="172.5" lengthAdjust="spacingAndGlyphs">Influent</text><text class="ttl" x="482.5" y="1141" text-anchor="middle" textLength="157" lengthAdjust="spacingAndGlyphs">CW</text><text class="ttl" x="1409" y="1141" text-anchor="middle" textLength="402" lengthAdjust="spacingAndGlyphs">CW-MEC</text><text class="ttl" x="2381" y="1137" text-anchor="middle" textLength="459" lengthAdjust="spacingAndGlyphs">CW-FMEC</text>
</g>
</svg></body></html>
